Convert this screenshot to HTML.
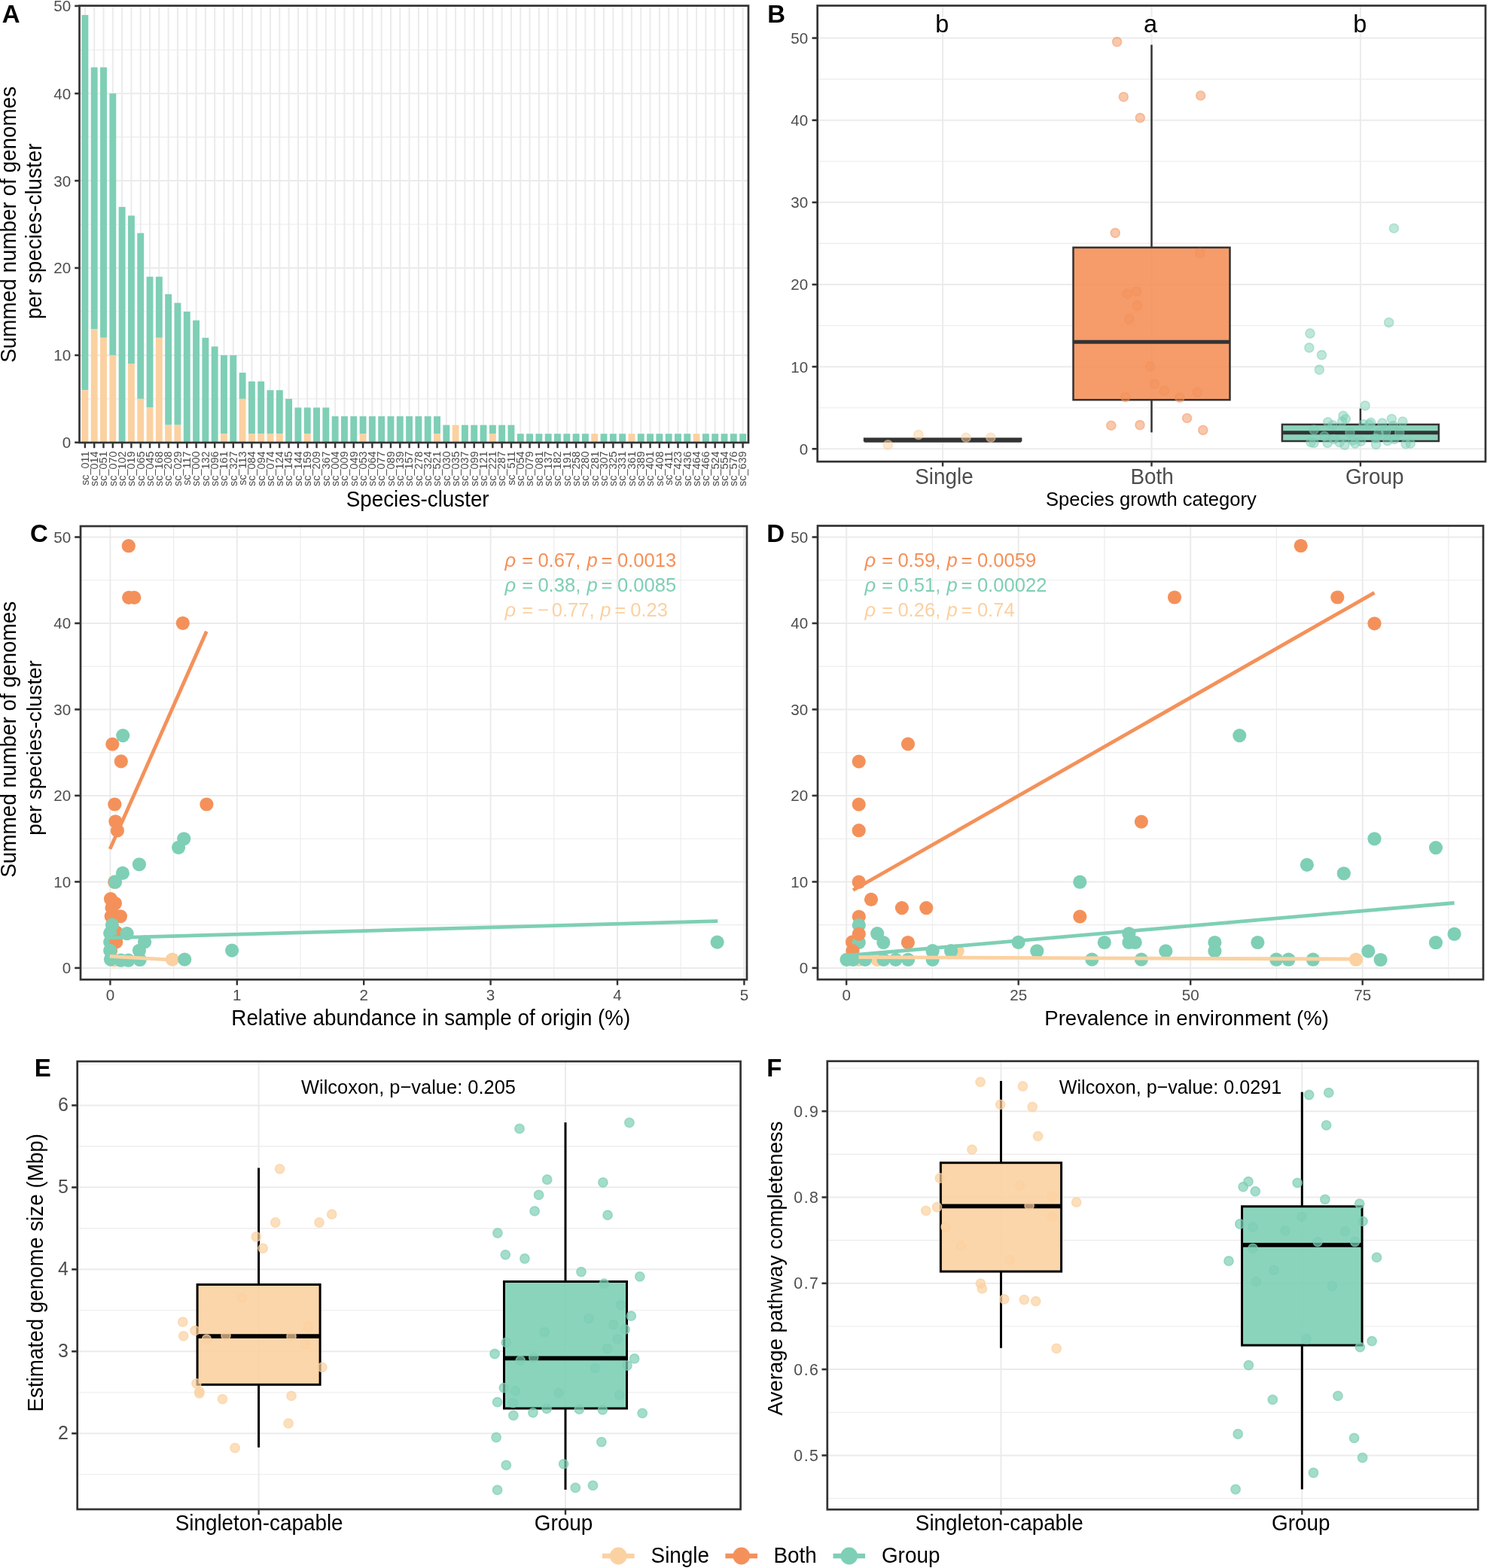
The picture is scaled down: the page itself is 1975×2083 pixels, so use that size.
<!DOCTYPE html>
<html><head><meta charset="utf-8"><title>Figure</title>
<style>html,body{margin:0;padding:0;background:#fff;} svg{display:block;}</style>
</head><body>
<svg xmlns="http://www.w3.org/2000/svg" width="1975" height="2083" viewBox="0 0 1975 2083" font-family="'Liberation Sans', Arial, Helvetica, sans-serif">
<rect width="1975" height="2083" fill="#fff"/>
<line x1="105.5" y1="529.85" x2="994" y2="529.85" stroke="#EBEBEB" stroke-width="1.1" stroke-linecap="butt"/>
<line x1="105.5" y1="413.95" x2="994" y2="413.95" stroke="#EBEBEB" stroke-width="1.1" stroke-linecap="butt"/>
<line x1="105.5" y1="298.05" x2="994" y2="298.05" stroke="#EBEBEB" stroke-width="1.1" stroke-linecap="butt"/>
<line x1="105.5" y1="182.15" x2="994" y2="182.15" stroke="#EBEBEB" stroke-width="1.1" stroke-linecap="butt"/>
<line x1="105.5" y1="66.25" x2="994" y2="66.25" stroke="#EBEBEB" stroke-width="1.1" stroke-linecap="butt"/>
<line x1="105.5" y1="471.9" x2="994" y2="471.9" stroke="#EBEBEB" stroke-width="2.0" stroke-linecap="butt"/>
<line x1="105.5" y1="356" x2="994" y2="356" stroke="#EBEBEB" stroke-width="2.0" stroke-linecap="butt"/>
<line x1="105.5" y1="240.1" x2="994" y2="240.1" stroke="#EBEBEB" stroke-width="2.0" stroke-linecap="butt"/>
<line x1="105.5" y1="124.2" x2="994" y2="124.2" stroke="#EBEBEB" stroke-width="2.0" stroke-linecap="butt"/>
<line x1="112.88" y1="7.6" x2="112.88" y2="588" stroke="#EBEBEB" stroke-width="2.0" stroke-linecap="butt"/>
<line x1="125.19" y1="7.6" x2="125.19" y2="588" stroke="#EBEBEB" stroke-width="2.0" stroke-linecap="butt"/>
<line x1="137.5" y1="7.6" x2="137.5" y2="588" stroke="#EBEBEB" stroke-width="2.0" stroke-linecap="butt"/>
<line x1="149.8" y1="7.6" x2="149.8" y2="588" stroke="#EBEBEB" stroke-width="2.0" stroke-linecap="butt"/>
<line x1="162.11" y1="7.6" x2="162.11" y2="588" stroke="#EBEBEB" stroke-width="2.0" stroke-linecap="butt"/>
<line x1="174.41" y1="7.6" x2="174.41" y2="588" stroke="#EBEBEB" stroke-width="2.0" stroke-linecap="butt"/>
<line x1="186.72" y1="7.6" x2="186.72" y2="588" stroke="#EBEBEB" stroke-width="2.0" stroke-linecap="butt"/>
<line x1="199.03" y1="7.6" x2="199.03" y2="588" stroke="#EBEBEB" stroke-width="2.0" stroke-linecap="butt"/>
<line x1="211.33" y1="7.6" x2="211.33" y2="588" stroke="#EBEBEB" stroke-width="2.0" stroke-linecap="butt"/>
<line x1="223.64" y1="7.6" x2="223.64" y2="588" stroke="#EBEBEB" stroke-width="2.0" stroke-linecap="butt"/>
<line x1="235.94" y1="7.6" x2="235.94" y2="588" stroke="#EBEBEB" stroke-width="2.0" stroke-linecap="butt"/>
<line x1="248.25" y1="7.6" x2="248.25" y2="588" stroke="#EBEBEB" stroke-width="2.0" stroke-linecap="butt"/>
<line x1="260.56" y1="7.6" x2="260.56" y2="588" stroke="#EBEBEB" stroke-width="2.0" stroke-linecap="butt"/>
<line x1="272.86" y1="7.6" x2="272.86" y2="588" stroke="#EBEBEB" stroke-width="2.0" stroke-linecap="butt"/>
<line x1="285.17" y1="7.6" x2="285.17" y2="588" stroke="#EBEBEB" stroke-width="2.0" stroke-linecap="butt"/>
<line x1="297.48" y1="7.6" x2="297.48" y2="588" stroke="#EBEBEB" stroke-width="2.0" stroke-linecap="butt"/>
<line x1="309.78" y1="7.6" x2="309.78" y2="588" stroke="#EBEBEB" stroke-width="2.0" stroke-linecap="butt"/>
<line x1="322.09" y1="7.6" x2="322.09" y2="588" stroke="#EBEBEB" stroke-width="2.0" stroke-linecap="butt"/>
<line x1="334.39" y1="7.6" x2="334.39" y2="588" stroke="#EBEBEB" stroke-width="2.0" stroke-linecap="butt"/>
<line x1="346.7" y1="7.6" x2="346.7" y2="588" stroke="#EBEBEB" stroke-width="2.0" stroke-linecap="butt"/>
<line x1="359.01" y1="7.6" x2="359.01" y2="588" stroke="#EBEBEB" stroke-width="2.0" stroke-linecap="butt"/>
<line x1="371.31" y1="7.6" x2="371.31" y2="588" stroke="#EBEBEB" stroke-width="2.0" stroke-linecap="butt"/>
<line x1="383.62" y1="7.6" x2="383.62" y2="588" stroke="#EBEBEB" stroke-width="2.0" stroke-linecap="butt"/>
<line x1="395.92" y1="7.6" x2="395.92" y2="588" stroke="#EBEBEB" stroke-width="2.0" stroke-linecap="butt"/>
<line x1="408.23" y1="7.6" x2="408.23" y2="588" stroke="#EBEBEB" stroke-width="2.0" stroke-linecap="butt"/>
<line x1="420.54" y1="7.6" x2="420.54" y2="588" stroke="#EBEBEB" stroke-width="2.0" stroke-linecap="butt"/>
<line x1="432.84" y1="7.6" x2="432.84" y2="588" stroke="#EBEBEB" stroke-width="2.0" stroke-linecap="butt"/>
<line x1="445.15" y1="7.6" x2="445.15" y2="588" stroke="#EBEBEB" stroke-width="2.0" stroke-linecap="butt"/>
<line x1="457.45" y1="7.6" x2="457.45" y2="588" stroke="#EBEBEB" stroke-width="2.0" stroke-linecap="butt"/>
<line x1="469.76" y1="7.6" x2="469.76" y2="588" stroke="#EBEBEB" stroke-width="2.0" stroke-linecap="butt"/>
<line x1="482.07" y1="7.6" x2="482.07" y2="588" stroke="#EBEBEB" stroke-width="2.0" stroke-linecap="butt"/>
<line x1="494.37" y1="7.6" x2="494.37" y2="588" stroke="#EBEBEB" stroke-width="2.0" stroke-linecap="butt"/>
<line x1="506.68" y1="7.6" x2="506.68" y2="588" stroke="#EBEBEB" stroke-width="2.0" stroke-linecap="butt"/>
<line x1="518.98" y1="7.6" x2="518.98" y2="588" stroke="#EBEBEB" stroke-width="2.0" stroke-linecap="butt"/>
<line x1="531.29" y1="7.6" x2="531.29" y2="588" stroke="#EBEBEB" stroke-width="2.0" stroke-linecap="butt"/>
<line x1="543.6" y1="7.6" x2="543.6" y2="588" stroke="#EBEBEB" stroke-width="2.0" stroke-linecap="butt"/>
<line x1="555.9" y1="7.6" x2="555.9" y2="588" stroke="#EBEBEB" stroke-width="2.0" stroke-linecap="butt"/>
<line x1="568.21" y1="7.6" x2="568.21" y2="588" stroke="#EBEBEB" stroke-width="2.0" stroke-linecap="butt"/>
<line x1="580.52" y1="7.6" x2="580.52" y2="588" stroke="#EBEBEB" stroke-width="2.0" stroke-linecap="butt"/>
<line x1="592.82" y1="7.6" x2="592.82" y2="588" stroke="#EBEBEB" stroke-width="2.0" stroke-linecap="butt"/>
<line x1="605.13" y1="7.6" x2="605.13" y2="588" stroke="#EBEBEB" stroke-width="2.0" stroke-linecap="butt"/>
<line x1="617.43" y1="7.6" x2="617.43" y2="588" stroke="#EBEBEB" stroke-width="2.0" stroke-linecap="butt"/>
<line x1="629.74" y1="7.6" x2="629.74" y2="588" stroke="#EBEBEB" stroke-width="2.0" stroke-linecap="butt"/>
<line x1="642.05" y1="7.6" x2="642.05" y2="588" stroke="#EBEBEB" stroke-width="2.0" stroke-linecap="butt"/>
<line x1="654.35" y1="7.6" x2="654.35" y2="588" stroke="#EBEBEB" stroke-width="2.0" stroke-linecap="butt"/>
<line x1="666.66" y1="7.6" x2="666.66" y2="588" stroke="#EBEBEB" stroke-width="2.0" stroke-linecap="butt"/>
<line x1="678.96" y1="7.6" x2="678.96" y2="588" stroke="#EBEBEB" stroke-width="2.0" stroke-linecap="butt"/>
<line x1="691.27" y1="7.6" x2="691.27" y2="588" stroke="#EBEBEB" stroke-width="2.0" stroke-linecap="butt"/>
<line x1="703.58" y1="7.6" x2="703.58" y2="588" stroke="#EBEBEB" stroke-width="2.0" stroke-linecap="butt"/>
<line x1="715.88" y1="7.6" x2="715.88" y2="588" stroke="#EBEBEB" stroke-width="2.0" stroke-linecap="butt"/>
<line x1="728.19" y1="7.6" x2="728.19" y2="588" stroke="#EBEBEB" stroke-width="2.0" stroke-linecap="butt"/>
<line x1="740.49" y1="7.6" x2="740.49" y2="588" stroke="#EBEBEB" stroke-width="2.0" stroke-linecap="butt"/>
<line x1="752.8" y1="7.6" x2="752.8" y2="588" stroke="#EBEBEB" stroke-width="2.0" stroke-linecap="butt"/>
<line x1="765.11" y1="7.6" x2="765.11" y2="588" stroke="#EBEBEB" stroke-width="2.0" stroke-linecap="butt"/>
<line x1="777.41" y1="7.6" x2="777.41" y2="588" stroke="#EBEBEB" stroke-width="2.0" stroke-linecap="butt"/>
<line x1="789.72" y1="7.6" x2="789.72" y2="588" stroke="#EBEBEB" stroke-width="2.0" stroke-linecap="butt"/>
<line x1="802.02" y1="7.6" x2="802.02" y2="588" stroke="#EBEBEB" stroke-width="2.0" stroke-linecap="butt"/>
<line x1="814.33" y1="7.6" x2="814.33" y2="588" stroke="#EBEBEB" stroke-width="2.0" stroke-linecap="butt"/>
<line x1="826.64" y1="7.6" x2="826.64" y2="588" stroke="#EBEBEB" stroke-width="2.0" stroke-linecap="butt"/>
<line x1="838.94" y1="7.6" x2="838.94" y2="588" stroke="#EBEBEB" stroke-width="2.0" stroke-linecap="butt"/>
<line x1="851.25" y1="7.6" x2="851.25" y2="588" stroke="#EBEBEB" stroke-width="2.0" stroke-linecap="butt"/>
<line x1="863.56" y1="7.6" x2="863.56" y2="588" stroke="#EBEBEB" stroke-width="2.0" stroke-linecap="butt"/>
<line x1="875.86" y1="7.6" x2="875.86" y2="588" stroke="#EBEBEB" stroke-width="2.0" stroke-linecap="butt"/>
<line x1="888.17" y1="7.6" x2="888.17" y2="588" stroke="#EBEBEB" stroke-width="2.0" stroke-linecap="butt"/>
<line x1="900.47" y1="7.6" x2="900.47" y2="588" stroke="#EBEBEB" stroke-width="2.0" stroke-linecap="butt"/>
<line x1="912.78" y1="7.6" x2="912.78" y2="588" stroke="#EBEBEB" stroke-width="2.0" stroke-linecap="butt"/>
<line x1="925.09" y1="7.6" x2="925.09" y2="588" stroke="#EBEBEB" stroke-width="2.0" stroke-linecap="butt"/>
<line x1="937.39" y1="7.6" x2="937.39" y2="588" stroke="#EBEBEB" stroke-width="2.0" stroke-linecap="butt"/>
<line x1="949.7" y1="7.6" x2="949.7" y2="588" stroke="#EBEBEB" stroke-width="2.0" stroke-linecap="butt"/>
<line x1="962" y1="7.6" x2="962" y2="588" stroke="#EBEBEB" stroke-width="2.0" stroke-linecap="butt"/>
<line x1="974.31" y1="7.6" x2="974.31" y2="588" stroke="#EBEBEB" stroke-width="2.0" stroke-linecap="butt"/>
<line x1="986.62" y1="7.6" x2="986.62" y2="588" stroke="#EBEBEB" stroke-width="2.0" stroke-linecap="butt"/>
<rect x="108.43" y="19.89" width="8.9" height="498.37" fill="#7ECFB5"/>
<rect x="108.43" y="518.26" width="8.9" height="69.54" fill="#FBD1A1"/>
<rect x="120.74" y="89.43" width="8.9" height="347.7" fill="#7ECFB5"/>
<rect x="120.74" y="437.13" width="8.9" height="150.67" fill="#FBD1A1"/>
<rect x="133.05" y="89.43" width="8.9" height="359.29" fill="#7ECFB5"/>
<rect x="133.05" y="448.72" width="8.9" height="139.08" fill="#FBD1A1"/>
<rect x="145.35" y="124.2" width="8.9" height="347.7" fill="#7ECFB5"/>
<rect x="145.35" y="471.9" width="8.9" height="115.9" fill="#FBD1A1"/>
<rect x="157.66" y="274.87" width="8.9" height="312.93" fill="#7ECFB5"/>
<rect x="169.96" y="286.46" width="8.9" height="197.03" fill="#7ECFB5"/>
<rect x="169.96" y="483.49" width="8.9" height="104.31" fill="#FBD1A1"/>
<rect x="182.27" y="309.64" width="8.9" height="220.21" fill="#7ECFB5"/>
<rect x="182.27" y="529.85" width="8.9" height="57.95" fill="#FBD1A1"/>
<rect x="194.58" y="367.59" width="8.9" height="173.85" fill="#7ECFB5"/>
<rect x="194.58" y="541.44" width="8.9" height="46.36" fill="#FBD1A1"/>
<rect x="206.88" y="367.59" width="8.9" height="81.13" fill="#7ECFB5"/>
<rect x="206.88" y="448.72" width="8.9" height="139.08" fill="#FBD1A1"/>
<rect x="219.19" y="390.77" width="8.9" height="173.85" fill="#7ECFB5"/>
<rect x="219.19" y="564.62" width="8.9" height="23.18" fill="#FBD1A1"/>
<rect x="231.49" y="402.36" width="8.9" height="162.26" fill="#7ECFB5"/>
<rect x="231.49" y="564.62" width="8.9" height="23.18" fill="#FBD1A1"/>
<rect x="243.8" y="413.95" width="8.9" height="173.85" fill="#7ECFB5"/>
<rect x="256.11" y="425.54" width="8.9" height="162.26" fill="#7ECFB5"/>
<rect x="268.41" y="448.72" width="8.9" height="139.08" fill="#7ECFB5"/>
<rect x="280.72" y="460.31" width="8.9" height="127.49" fill="#7ECFB5"/>
<rect x="293.03" y="471.9" width="8.9" height="104.31" fill="#7ECFB5"/>
<rect x="293.03" y="576.21" width="8.9" height="11.59" fill="#FBD1A1"/>
<rect x="305.33" y="471.9" width="8.9" height="115.9" fill="#7ECFB5"/>
<rect x="317.64" y="495.08" width="8.9" height="34.77" fill="#7ECFB5"/>
<rect x="317.64" y="529.85" width="8.9" height="57.95" fill="#FBD1A1"/>
<rect x="329.94" y="506.67" width="8.9" height="69.54" fill="#7ECFB5"/>
<rect x="329.94" y="576.21" width="8.9" height="11.59" fill="#FBD1A1"/>
<rect x="342.25" y="506.67" width="8.9" height="69.54" fill="#7ECFB5"/>
<rect x="342.25" y="576.21" width="8.9" height="11.59" fill="#FBD1A1"/>
<rect x="354.56" y="518.26" width="8.9" height="57.95" fill="#7ECFB5"/>
<rect x="354.56" y="576.21" width="8.9" height="11.59" fill="#FBD1A1"/>
<rect x="366.86" y="518.26" width="8.9" height="57.95" fill="#7ECFB5"/>
<rect x="366.86" y="576.21" width="8.9" height="11.59" fill="#FBD1A1"/>
<rect x="379.17" y="529.85" width="8.9" height="57.95" fill="#7ECFB5"/>
<rect x="391.47" y="541.44" width="8.9" height="46.36" fill="#7ECFB5"/>
<rect x="403.78" y="541.44" width="8.9" height="34.77" fill="#7ECFB5"/>
<rect x="403.78" y="576.21" width="8.9" height="11.59" fill="#FBD1A1"/>
<rect x="416.09" y="541.44" width="8.9" height="46.36" fill="#7ECFB5"/>
<rect x="428.39" y="541.44" width="8.9" height="46.36" fill="#7ECFB5"/>
<rect x="440.7" y="553.03" width="8.9" height="34.77" fill="#7ECFB5"/>
<rect x="453" y="553.03" width="8.9" height="34.77" fill="#7ECFB5"/>
<rect x="465.31" y="553.03" width="8.9" height="34.77" fill="#7ECFB5"/>
<rect x="477.62" y="553.03" width="8.9" height="23.18" fill="#7ECFB5"/>
<rect x="477.62" y="576.21" width="8.9" height="11.59" fill="#FBD1A1"/>
<rect x="489.92" y="553.03" width="8.9" height="34.77" fill="#7ECFB5"/>
<rect x="502.23" y="553.03" width="8.9" height="34.77" fill="#7ECFB5"/>
<rect x="514.53" y="553.03" width="8.9" height="34.77" fill="#7ECFB5"/>
<rect x="526.84" y="553.03" width="8.9" height="34.77" fill="#7ECFB5"/>
<rect x="539.15" y="553.03" width="8.9" height="34.77" fill="#7ECFB5"/>
<rect x="551.45" y="553.03" width="8.9" height="34.77" fill="#7ECFB5"/>
<rect x="563.76" y="553.03" width="8.9" height="34.77" fill="#7ECFB5"/>
<rect x="576.07" y="553.03" width="8.9" height="23.18" fill="#7ECFB5"/>
<rect x="576.07" y="576.21" width="8.9" height="11.59" fill="#FBD1A1"/>
<rect x="588.37" y="564.62" width="8.9" height="23.18" fill="#7ECFB5"/>
<rect x="600.68" y="564.62" width="8.9" height="23.18" fill="#FBD1A1"/>
<rect x="612.98" y="564.62" width="8.9" height="23.18" fill="#7ECFB5"/>
<rect x="625.29" y="564.62" width="8.9" height="23.18" fill="#7ECFB5"/>
<rect x="637.6" y="564.62" width="8.9" height="23.18" fill="#7ECFB5"/>
<rect x="649.9" y="564.62" width="8.9" height="11.59" fill="#7ECFB5"/>
<rect x="649.9" y="576.21" width="8.9" height="11.59" fill="#FBD1A1"/>
<rect x="662.21" y="564.62" width="8.9" height="23.18" fill="#7ECFB5"/>
<rect x="674.51" y="564.62" width="8.9" height="23.18" fill="#7ECFB5"/>
<rect x="686.82" y="576.21" width="8.9" height="11.59" fill="#7ECFB5"/>
<rect x="699.13" y="576.21" width="8.9" height="11.59" fill="#7ECFB5"/>
<rect x="711.43" y="576.21" width="8.9" height="11.59" fill="#7ECFB5"/>
<rect x="723.74" y="576.21" width="8.9" height="11.59" fill="#7ECFB5"/>
<rect x="736.04" y="576.21" width="8.9" height="11.59" fill="#7ECFB5"/>
<rect x="748.35" y="576.21" width="8.9" height="11.59" fill="#7ECFB5"/>
<rect x="760.66" y="576.21" width="8.9" height="11.59" fill="#7ECFB5"/>
<rect x="772.96" y="576.21" width="8.9" height="11.59" fill="#7ECFB5"/>
<rect x="785.27" y="576.21" width="8.9" height="11.59" fill="#FBD1A1"/>
<rect x="797.57" y="576.21" width="8.9" height="11.59" fill="#7ECFB5"/>
<rect x="809.88" y="576.21" width="8.9" height="11.59" fill="#7ECFB5"/>
<rect x="822.19" y="576.21" width="8.9" height="11.59" fill="#7ECFB5"/>
<rect x="834.49" y="576.21" width="8.9" height="11.59" fill="#FBD1A1"/>
<rect x="846.8" y="576.21" width="8.9" height="11.59" fill="#7ECFB5"/>
<rect x="859.11" y="576.21" width="8.9" height="11.59" fill="#7ECFB5"/>
<rect x="871.41" y="576.21" width="8.9" height="11.59" fill="#7ECFB5"/>
<rect x="883.72" y="576.21" width="8.9" height="11.59" fill="#7ECFB5"/>
<rect x="896.02" y="576.21" width="8.9" height="11.59" fill="#7ECFB5"/>
<rect x="908.33" y="576.21" width="8.9" height="11.59" fill="#7ECFB5"/>
<rect x="920.64" y="576.21" width="8.9" height="11.59" fill="#FBD1A1"/>
<rect x="932.94" y="576.21" width="8.9" height="11.59" fill="#7ECFB5"/>
<rect x="945.25" y="576.21" width="8.9" height="11.59" fill="#7ECFB5"/>
<rect x="957.55" y="576.21" width="8.9" height="11.59" fill="#7ECFB5"/>
<rect x="969.86" y="576.21" width="8.9" height="11.59" fill="#7ECFB5"/>
<rect x="982.17" y="576.21" width="8.9" height="11.59" fill="#7ECFB5"/>
<rect x="105.5" y="7.6" width="888.5" height="580.4" fill="none" stroke="#333333" stroke-width="2.7"/>
<line x1="99.2" y1="587.8" x2="105.5" y2="587.8" stroke="#333333" stroke-width="2.6" stroke-linecap="butt"/>
<text x="94.1" y="595.2" font-size="20.6" fill="#4D4D4D" text-anchor="end">0</text>
<line x1="99.2" y1="471.9" x2="105.5" y2="471.9" stroke="#333333" stroke-width="2.6" stroke-linecap="butt"/>
<text x="94.1" y="479.3" font-size="20.6" fill="#4D4D4D" text-anchor="end">10</text>
<line x1="99.2" y1="356" x2="105.5" y2="356" stroke="#333333" stroke-width="2.6" stroke-linecap="butt"/>
<text x="94.1" y="363.4" font-size="20.6" fill="#4D4D4D" text-anchor="end">20</text>
<line x1="99.2" y1="240.1" x2="105.5" y2="240.1" stroke="#333333" stroke-width="2.6" stroke-linecap="butt"/>
<text x="94.1" y="247.5" font-size="20.6" fill="#4D4D4D" text-anchor="end">30</text>
<line x1="99.2" y1="124.2" x2="105.5" y2="124.2" stroke="#333333" stroke-width="2.6" stroke-linecap="butt"/>
<text x="94.1" y="131.6" font-size="20.6" fill="#4D4D4D" text-anchor="end">40</text>
<line x1="99.2" y1="7.9" x2="105.5" y2="7.9" stroke="#333333" stroke-width="2.6" stroke-linecap="butt"/>
<text x="94.1" y="15.3" font-size="20.6" fill="#4D4D4D" text-anchor="end">50</text>
<line x1="112.88" y1="588" x2="112.88" y2="595.2" stroke="#333333" stroke-width="2.4" stroke-linecap="butt"/>
<text x="117.68" y="599.5" font-size="14.4" fill="#4D4D4D" text-anchor="end" transform="rotate(-90 117.68 599.5)">sc_011</text>
<line x1="125.19" y1="588" x2="125.19" y2="595.2" stroke="#333333" stroke-width="2.4" stroke-linecap="butt"/>
<text x="129.99" y="599.5" font-size="14.4" fill="#4D4D4D" text-anchor="end" transform="rotate(-90 129.99 599.5)">sc_014</text>
<line x1="137.5" y1="588" x2="137.5" y2="595.2" stroke="#333333" stroke-width="2.4" stroke-linecap="butt"/>
<text x="142.3" y="599.5" font-size="14.4" fill="#4D4D4D" text-anchor="end" transform="rotate(-90 142.3 599.5)">sc_051</text>
<line x1="149.8" y1="588" x2="149.8" y2="595.2" stroke="#333333" stroke-width="2.4" stroke-linecap="butt"/>
<text x="154.6" y="599.5" font-size="14.4" fill="#4D4D4D" text-anchor="end" transform="rotate(-90 154.6 599.5)">sc_070</text>
<line x1="162.11" y1="588" x2="162.11" y2="595.2" stroke="#333333" stroke-width="2.4" stroke-linecap="butt"/>
<text x="166.91" y="599.5" font-size="14.4" fill="#4D4D4D" text-anchor="end" transform="rotate(-90 166.91 599.5)">sc_102</text>
<line x1="174.41" y1="588" x2="174.41" y2="595.2" stroke="#333333" stroke-width="2.4" stroke-linecap="butt"/>
<text x="179.21" y="599.5" font-size="14.4" fill="#4D4D4D" text-anchor="end" transform="rotate(-90 179.21 599.5)">sc_019</text>
<line x1="186.72" y1="588" x2="186.72" y2="595.2" stroke="#333333" stroke-width="2.4" stroke-linecap="butt"/>
<text x="191.52" y="599.5" font-size="14.4" fill="#4D4D4D" text-anchor="end" transform="rotate(-90 191.52 599.5)">sc_065</text>
<line x1="199.03" y1="588" x2="199.03" y2="595.2" stroke="#333333" stroke-width="2.4" stroke-linecap="butt"/>
<text x="203.83" y="599.5" font-size="14.4" fill="#4D4D4D" text-anchor="end" transform="rotate(-90 203.83 599.5)">sc_045</text>
<line x1="211.33" y1="588" x2="211.33" y2="595.2" stroke="#333333" stroke-width="2.4" stroke-linecap="butt"/>
<text x="216.13" y="599.5" font-size="14.4" fill="#4D4D4D" text-anchor="end" transform="rotate(-90 216.13 599.5)">sc_168</text>
<line x1="223.64" y1="588" x2="223.64" y2="595.2" stroke="#333333" stroke-width="2.4" stroke-linecap="butt"/>
<text x="228.44" y="599.5" font-size="14.4" fill="#4D4D4D" text-anchor="end" transform="rotate(-90 228.44 599.5)">sc_208</text>
<line x1="235.94" y1="588" x2="235.94" y2="595.2" stroke="#333333" stroke-width="2.4" stroke-linecap="butt"/>
<text x="240.74" y="599.5" font-size="14.4" fill="#4D4D4D" text-anchor="end" transform="rotate(-90 240.74 599.5)">sc_029</text>
<line x1="248.25" y1="588" x2="248.25" y2="595.2" stroke="#333333" stroke-width="2.4" stroke-linecap="butt"/>
<text x="253.05" y="599.5" font-size="14.4" fill="#4D4D4D" text-anchor="end" transform="rotate(-90 253.05 599.5)">sc_117</text>
<line x1="260.56" y1="588" x2="260.56" y2="595.2" stroke="#333333" stroke-width="2.4" stroke-linecap="butt"/>
<text x="265.36" y="599.5" font-size="14.4" fill="#4D4D4D" text-anchor="end" transform="rotate(-90 265.36 599.5)">sc_000</text>
<line x1="272.86" y1="588" x2="272.86" y2="595.2" stroke="#333333" stroke-width="2.4" stroke-linecap="butt"/>
<text x="277.66" y="599.5" font-size="14.4" fill="#4D4D4D" text-anchor="end" transform="rotate(-90 277.66 599.5)">sc_132</text>
<line x1="285.17" y1="588" x2="285.17" y2="595.2" stroke="#333333" stroke-width="2.4" stroke-linecap="butt"/>
<text x="289.97" y="599.5" font-size="14.4" fill="#4D4D4D" text-anchor="end" transform="rotate(-90 289.97 599.5)">sc_096</text>
<line x1="297.48" y1="588" x2="297.48" y2="595.2" stroke="#333333" stroke-width="2.4" stroke-linecap="butt"/>
<text x="302.28" y="599.5" font-size="14.4" fill="#4D4D4D" text-anchor="end" transform="rotate(-90 302.28 599.5)">sc_161</text>
<line x1="309.78" y1="588" x2="309.78" y2="595.2" stroke="#333333" stroke-width="2.4" stroke-linecap="butt"/>
<text x="314.58" y="599.5" font-size="14.4" fill="#4D4D4D" text-anchor="end" transform="rotate(-90 314.58 599.5)">sc_327</text>
<line x1="322.09" y1="588" x2="322.09" y2="595.2" stroke="#333333" stroke-width="2.4" stroke-linecap="butt"/>
<text x="326.89" y="599.5" font-size="14.4" fill="#4D4D4D" text-anchor="end" transform="rotate(-90 326.89 599.5)">sc_113</text>
<line x1="334.39" y1="588" x2="334.39" y2="595.2" stroke="#333333" stroke-width="2.4" stroke-linecap="butt"/>
<text x="339.19" y="599.5" font-size="14.4" fill="#4D4D4D" text-anchor="end" transform="rotate(-90 339.19 599.5)">sc_084</text>
<line x1="346.7" y1="588" x2="346.7" y2="595.2" stroke="#333333" stroke-width="2.4" stroke-linecap="butt"/>
<text x="351.5" y="599.5" font-size="14.4" fill="#4D4D4D" text-anchor="end" transform="rotate(-90 351.5 599.5)">sc_094</text>
<line x1="359.01" y1="588" x2="359.01" y2="595.2" stroke="#333333" stroke-width="2.4" stroke-linecap="butt"/>
<text x="363.81" y="599.5" font-size="14.4" fill="#4D4D4D" text-anchor="end" transform="rotate(-90 363.81 599.5)">sc_074</text>
<line x1="371.31" y1="588" x2="371.31" y2="595.2" stroke="#333333" stroke-width="2.4" stroke-linecap="butt"/>
<text x="376.11" y="599.5" font-size="14.4" fill="#4D4D4D" text-anchor="end" transform="rotate(-90 376.11 599.5)">sc_124</text>
<line x1="383.62" y1="588" x2="383.62" y2="595.2" stroke="#333333" stroke-width="2.4" stroke-linecap="butt"/>
<text x="388.42" y="599.5" font-size="14.4" fill="#4D4D4D" text-anchor="end" transform="rotate(-90 388.42 599.5)">sc_145</text>
<line x1="395.92" y1="588" x2="395.92" y2="595.2" stroke="#333333" stroke-width="2.4" stroke-linecap="butt"/>
<text x="400.72" y="599.5" font-size="14.4" fill="#4D4D4D" text-anchor="end" transform="rotate(-90 400.72 599.5)">sc_144</text>
<line x1="408.23" y1="588" x2="408.23" y2="595.2" stroke="#333333" stroke-width="2.4" stroke-linecap="butt"/>
<text x="413.03" y="599.5" font-size="14.4" fill="#4D4D4D" text-anchor="end" transform="rotate(-90 413.03 599.5)">sc_159</text>
<line x1="420.54" y1="588" x2="420.54" y2="595.2" stroke="#333333" stroke-width="2.4" stroke-linecap="butt"/>
<text x="425.34" y="599.5" font-size="14.4" fill="#4D4D4D" text-anchor="end" transform="rotate(-90 425.34 599.5)">sc_209</text>
<line x1="432.84" y1="588" x2="432.84" y2="595.2" stroke="#333333" stroke-width="2.4" stroke-linecap="butt"/>
<text x="437.64" y="599.5" font-size="14.4" fill="#4D4D4D" text-anchor="end" transform="rotate(-90 437.64 599.5)">sc_367</text>
<line x1="445.15" y1="588" x2="445.15" y2="595.2" stroke="#333333" stroke-width="2.4" stroke-linecap="butt"/>
<text x="449.95" y="599.5" font-size="14.4" fill="#4D4D4D" text-anchor="end" transform="rotate(-90 449.95 599.5)">sc_004</text>
<line x1="457.45" y1="588" x2="457.45" y2="595.2" stroke="#333333" stroke-width="2.4" stroke-linecap="butt"/>
<text x="462.25" y="599.5" font-size="14.4" fill="#4D4D4D" text-anchor="end" transform="rotate(-90 462.25 599.5)">sc_009</text>
<line x1="469.76" y1="588" x2="469.76" y2="595.2" stroke="#333333" stroke-width="2.4" stroke-linecap="butt"/>
<text x="474.56" y="599.5" font-size="14.4" fill="#4D4D4D" text-anchor="end" transform="rotate(-90 474.56 599.5)">sc_049</text>
<line x1="482.07" y1="588" x2="482.07" y2="595.2" stroke="#333333" stroke-width="2.4" stroke-linecap="butt"/>
<text x="486.87" y="599.5" font-size="14.4" fill="#4D4D4D" text-anchor="end" transform="rotate(-90 486.87 599.5)">sc_053</text>
<line x1="494.37" y1="588" x2="494.37" y2="595.2" stroke="#333333" stroke-width="2.4" stroke-linecap="butt"/>
<text x="499.17" y="599.5" font-size="14.4" fill="#4D4D4D" text-anchor="end" transform="rotate(-90 499.17 599.5)">sc_064</text>
<line x1="506.68" y1="588" x2="506.68" y2="595.2" stroke="#333333" stroke-width="2.4" stroke-linecap="butt"/>
<text x="511.48" y="599.5" font-size="14.4" fill="#4D4D4D" text-anchor="end" transform="rotate(-90 511.48 599.5)">sc_077</text>
<line x1="518.98" y1="588" x2="518.98" y2="595.2" stroke="#333333" stroke-width="2.4" stroke-linecap="butt"/>
<text x="523.78" y="599.5" font-size="14.4" fill="#4D4D4D" text-anchor="end" transform="rotate(-90 523.78 599.5)">sc_089</text>
<line x1="531.29" y1="588" x2="531.29" y2="595.2" stroke="#333333" stroke-width="2.4" stroke-linecap="butt"/>
<text x="536.09" y="599.5" font-size="14.4" fill="#4D4D4D" text-anchor="end" transform="rotate(-90 536.09 599.5)">sc_139</text>
<line x1="543.6" y1="588" x2="543.6" y2="595.2" stroke="#333333" stroke-width="2.4" stroke-linecap="butt"/>
<text x="548.4" y="599.5" font-size="14.4" fill="#4D4D4D" text-anchor="end" transform="rotate(-90 548.4 599.5)">sc_157</text>
<line x1="555.9" y1="588" x2="555.9" y2="595.2" stroke="#333333" stroke-width="2.4" stroke-linecap="butt"/>
<text x="560.7" y="599.5" font-size="14.4" fill="#4D4D4D" text-anchor="end" transform="rotate(-90 560.7 599.5)">sc_278</text>
<line x1="568.21" y1="588" x2="568.21" y2="595.2" stroke="#333333" stroke-width="2.4" stroke-linecap="butt"/>
<text x="573.01" y="599.5" font-size="14.4" fill="#4D4D4D" text-anchor="end" transform="rotate(-90 573.01 599.5)">sc_324</text>
<line x1="580.52" y1="588" x2="580.52" y2="595.2" stroke="#333333" stroke-width="2.4" stroke-linecap="butt"/>
<text x="585.32" y="599.5" font-size="14.4" fill="#4D4D4D" text-anchor="end" transform="rotate(-90 585.32 599.5)">sc_521</text>
<line x1="592.82" y1="588" x2="592.82" y2="595.2" stroke="#333333" stroke-width="2.4" stroke-linecap="butt"/>
<text x="597.62" y="599.5" font-size="14.4" fill="#4D4D4D" text-anchor="end" transform="rotate(-90 597.62 599.5)">sc_030</text>
<line x1="605.13" y1="588" x2="605.13" y2="595.2" stroke="#333333" stroke-width="2.4" stroke-linecap="butt"/>
<text x="609.93" y="599.5" font-size="14.4" fill="#4D4D4D" text-anchor="end" transform="rotate(-90 609.93 599.5)">sc_035</text>
<line x1="617.43" y1="588" x2="617.43" y2="595.2" stroke="#333333" stroke-width="2.4" stroke-linecap="butt"/>
<text x="622.23" y="599.5" font-size="14.4" fill="#4D4D4D" text-anchor="end" transform="rotate(-90 622.23 599.5)">sc_037</text>
<line x1="629.74" y1="588" x2="629.74" y2="595.2" stroke="#333333" stroke-width="2.4" stroke-linecap="butt"/>
<text x="634.54" y="599.5" font-size="14.4" fill="#4D4D4D" text-anchor="end" transform="rotate(-90 634.54 599.5)">sc_099</text>
<line x1="642.05" y1="588" x2="642.05" y2="595.2" stroke="#333333" stroke-width="2.4" stroke-linecap="butt"/>
<text x="646.85" y="599.5" font-size="14.4" fill="#4D4D4D" text-anchor="end" transform="rotate(-90 646.85 599.5)">sc_121</text>
<line x1="654.35" y1="588" x2="654.35" y2="595.2" stroke="#333333" stroke-width="2.4" stroke-linecap="butt"/>
<text x="659.15" y="599.5" font-size="14.4" fill="#4D4D4D" text-anchor="end" transform="rotate(-90 659.15 599.5)">sc_221</text>
<line x1="666.66" y1="588" x2="666.66" y2="595.2" stroke="#333333" stroke-width="2.4" stroke-linecap="butt"/>
<text x="671.46" y="599.5" font-size="14.4" fill="#4D4D4D" text-anchor="end" transform="rotate(-90 671.46 599.5)">sc_287</text>
<line x1="678.96" y1="588" x2="678.96" y2="595.2" stroke="#333333" stroke-width="2.4" stroke-linecap="butt"/>
<text x="683.76" y="599.5" font-size="14.4" fill="#4D4D4D" text-anchor="end" transform="rotate(-90 683.76 599.5)">sc_511</text>
<line x1="691.27" y1="588" x2="691.27" y2="595.2" stroke="#333333" stroke-width="2.4" stroke-linecap="butt"/>
<text x="696.07" y="599.5" font-size="14.4" fill="#4D4D4D" text-anchor="end" transform="rotate(-90 696.07 599.5)">sc_054</text>
<line x1="703.58" y1="588" x2="703.58" y2="595.2" stroke="#333333" stroke-width="2.4" stroke-linecap="butt"/>
<text x="708.38" y="599.5" font-size="14.4" fill="#4D4D4D" text-anchor="end" transform="rotate(-90 708.38 599.5)">sc_079</text>
<line x1="715.88" y1="588" x2="715.88" y2="595.2" stroke="#333333" stroke-width="2.4" stroke-linecap="butt"/>
<text x="720.68" y="599.5" font-size="14.4" fill="#4D4D4D" text-anchor="end" transform="rotate(-90 720.68 599.5)">sc_081</text>
<line x1="728.19" y1="588" x2="728.19" y2="595.2" stroke="#333333" stroke-width="2.4" stroke-linecap="butt"/>
<text x="732.99" y="599.5" font-size="14.4" fill="#4D4D4D" text-anchor="end" transform="rotate(-90 732.99 599.5)">sc_137</text>
<line x1="740.49" y1="588" x2="740.49" y2="595.2" stroke="#333333" stroke-width="2.4" stroke-linecap="butt"/>
<text x="745.29" y="599.5" font-size="14.4" fill="#4D4D4D" text-anchor="end" transform="rotate(-90 745.29 599.5)">sc_182</text>
<line x1="752.8" y1="588" x2="752.8" y2="595.2" stroke="#333333" stroke-width="2.4" stroke-linecap="butt"/>
<text x="757.6" y="599.5" font-size="14.4" fill="#4D4D4D" text-anchor="end" transform="rotate(-90 757.6 599.5)">sc_191</text>
<line x1="765.11" y1="588" x2="765.11" y2="595.2" stroke="#333333" stroke-width="2.4" stroke-linecap="butt"/>
<text x="769.91" y="599.5" font-size="14.4" fill="#4D4D4D" text-anchor="end" transform="rotate(-90 769.91 599.5)">sc_258</text>
<line x1="777.41" y1="588" x2="777.41" y2="595.2" stroke="#333333" stroke-width="2.4" stroke-linecap="butt"/>
<text x="782.21" y="599.5" font-size="14.4" fill="#4D4D4D" text-anchor="end" transform="rotate(-90 782.21 599.5)">sc_280</text>
<line x1="789.72" y1="588" x2="789.72" y2="595.2" stroke="#333333" stroke-width="2.4" stroke-linecap="butt"/>
<text x="794.52" y="599.5" font-size="14.4" fill="#4D4D4D" text-anchor="end" transform="rotate(-90 794.52 599.5)">sc_281</text>
<line x1="802.02" y1="588" x2="802.02" y2="595.2" stroke="#333333" stroke-width="2.4" stroke-linecap="butt"/>
<text x="806.82" y="599.5" font-size="14.4" fill="#4D4D4D" text-anchor="end" transform="rotate(-90 806.82 599.5)">sc_307</text>
<line x1="814.33" y1="588" x2="814.33" y2="595.2" stroke="#333333" stroke-width="2.4" stroke-linecap="butt"/>
<text x="819.13" y="599.5" font-size="14.4" fill="#4D4D4D" text-anchor="end" transform="rotate(-90 819.13 599.5)">sc_325</text>
<line x1="826.64" y1="588" x2="826.64" y2="595.2" stroke="#333333" stroke-width="2.4" stroke-linecap="butt"/>
<text x="831.44" y="599.5" font-size="14.4" fill="#4D4D4D" text-anchor="end" transform="rotate(-90 831.44 599.5)">sc_331</text>
<line x1="838.94" y1="588" x2="838.94" y2="595.2" stroke="#333333" stroke-width="2.4" stroke-linecap="butt"/>
<text x="843.74" y="599.5" font-size="14.4" fill="#4D4D4D" text-anchor="end" transform="rotate(-90 843.74 599.5)">sc_361</text>
<line x1="851.25" y1="588" x2="851.25" y2="595.2" stroke="#333333" stroke-width="2.4" stroke-linecap="butt"/>
<text x="856.05" y="599.5" font-size="14.4" fill="#4D4D4D" text-anchor="end" transform="rotate(-90 856.05 599.5)">sc_389</text>
<line x1="863.56" y1="588" x2="863.56" y2="595.2" stroke="#333333" stroke-width="2.4" stroke-linecap="butt"/>
<text x="868.36" y="599.5" font-size="14.4" fill="#4D4D4D" text-anchor="end" transform="rotate(-90 868.36 599.5)">sc_401</text>
<line x1="875.86" y1="588" x2="875.86" y2="595.2" stroke="#333333" stroke-width="2.4" stroke-linecap="butt"/>
<text x="880.66" y="599.5" font-size="14.4" fill="#4D4D4D" text-anchor="end" transform="rotate(-90 880.66 599.5)">sc_408</text>
<line x1="888.17" y1="588" x2="888.17" y2="595.2" stroke="#333333" stroke-width="2.4" stroke-linecap="butt"/>
<text x="892.97" y="599.5" font-size="14.4" fill="#4D4D4D" text-anchor="end" transform="rotate(-90 892.97 599.5)">sc_411</text>
<line x1="900.47" y1="588" x2="900.47" y2="595.2" stroke="#333333" stroke-width="2.4" stroke-linecap="butt"/>
<text x="905.27" y="599.5" font-size="14.4" fill="#4D4D4D" text-anchor="end" transform="rotate(-90 905.27 599.5)">sc_423</text>
<line x1="912.78" y1="588" x2="912.78" y2="595.2" stroke="#333333" stroke-width="2.4" stroke-linecap="butt"/>
<text x="917.58" y="599.5" font-size="14.4" fill="#4D4D4D" text-anchor="end" transform="rotate(-90 917.58 599.5)">sc_436</text>
<line x1="925.09" y1="588" x2="925.09" y2="595.2" stroke="#333333" stroke-width="2.4" stroke-linecap="butt"/>
<text x="929.89" y="599.5" font-size="14.4" fill="#4D4D4D" text-anchor="end" transform="rotate(-90 929.89 599.5)">sc_464</text>
<line x1="937.39" y1="588" x2="937.39" y2="595.2" stroke="#333333" stroke-width="2.4" stroke-linecap="butt"/>
<text x="942.19" y="599.5" font-size="14.4" fill="#4D4D4D" text-anchor="end" transform="rotate(-90 942.19 599.5)">sc_466</text>
<line x1="949.7" y1="588" x2="949.7" y2="595.2" stroke="#333333" stroke-width="2.4" stroke-linecap="butt"/>
<text x="954.5" y="599.5" font-size="14.4" fill="#4D4D4D" text-anchor="end" transform="rotate(-90 954.5 599.5)">sc_524</text>
<line x1="962" y1="588" x2="962" y2="595.2" stroke="#333333" stroke-width="2.4" stroke-linecap="butt"/>
<text x="966.8" y="599.5" font-size="14.4" fill="#4D4D4D" text-anchor="end" transform="rotate(-90 966.8 599.5)">sc_554</text>
<line x1="974.31" y1="588" x2="974.31" y2="595.2" stroke="#333333" stroke-width="2.4" stroke-linecap="butt"/>
<text x="979.11" y="599.5" font-size="14.4" fill="#4D4D4D" text-anchor="end" transform="rotate(-90 979.11 599.5)">sc_576</text>
<line x1="986.62" y1="588" x2="986.62" y2="595.2" stroke="#333333" stroke-width="2.4" stroke-linecap="butt"/>
<text x="991.42" y="599.5" font-size="14.4" fill="#4D4D4D" text-anchor="end" transform="rotate(-90 991.42 599.5)">sc_639</text>
<text transform="translate(459.75 672.5) scale(1 1.03)" font-size="27.79" fill="#000">Species-cluster</text>
<text transform="translate(20.9 481.75) rotate(-90) scale(1 1.03)" font-size="27.86" fill="#000">Summed number of genomes</text>
<text transform="translate(55 424.11) rotate(-90) scale(1 1.03)" font-size="27.84" fill="#000">per species-cluster</text>
<text transform="translate(2.67 29.6) scale(1 1.03)" font-size="33.00" fill="#000" font-weight="bold">A</text>
<line x1="1085.7" y1="541.72" x2="1973" y2="541.72" stroke="#EBEBEB" stroke-width="1.1" stroke-linecap="butt"/>
<line x1="1085.7" y1="432.57" x2="1973" y2="432.57" stroke="#EBEBEB" stroke-width="1.1" stroke-linecap="butt"/>
<line x1="1085.7" y1="323.42" x2="1973" y2="323.42" stroke="#EBEBEB" stroke-width="1.1" stroke-linecap="butt"/>
<line x1="1085.7" y1="214.27" x2="1973" y2="214.27" stroke="#EBEBEB" stroke-width="1.1" stroke-linecap="butt"/>
<line x1="1085.7" y1="105.12" x2="1973" y2="105.12" stroke="#EBEBEB" stroke-width="1.1" stroke-linecap="butt"/>
<line x1="1085.7" y1="596.3" x2="1973" y2="596.3" stroke="#EBEBEB" stroke-width="2.0" stroke-linecap="butt"/>
<line x1="1085.7" y1="487.15" x2="1973" y2="487.15" stroke="#EBEBEB" stroke-width="2.0" stroke-linecap="butt"/>
<line x1="1085.7" y1="378" x2="1973" y2="378" stroke="#EBEBEB" stroke-width="2.0" stroke-linecap="butt"/>
<line x1="1085.7" y1="268.85" x2="1973" y2="268.85" stroke="#EBEBEB" stroke-width="2.0" stroke-linecap="butt"/>
<line x1="1085.7" y1="159.7" x2="1973" y2="159.7" stroke="#EBEBEB" stroke-width="2.0" stroke-linecap="butt"/>
<line x1="1085.7" y1="50.55" x2="1973" y2="50.55" stroke="#EBEBEB" stroke-width="2.0" stroke-linecap="butt"/>
<line x1="1252.1" y1="7.5" x2="1252.1" y2="613.2" stroke="#EBEBEB" stroke-width="2.0" stroke-linecap="butt"/>
<line x1="1529.5" y1="7.5" x2="1529.5" y2="613.2" stroke="#EBEBEB" stroke-width="2.0" stroke-linecap="butt"/>
<line x1="1806.9" y1="7.5" x2="1806.9" y2="613.2" stroke="#EBEBEB" stroke-width="2.0" stroke-linecap="butt"/>
<rect x="1242.9" y="23" width="18.2" height="22" fill="#fff"/>
<text transform="translate(1242.29 43.1) scale(1 1.03)" font-size="32.50" fill="#000">b</text>
<rect x="1519" y="23" width="19.1" height="22" fill="#fff"/>
<text transform="translate(1519.12 43.1) scale(1 1.03)" font-size="32.50" fill="#000">a</text>
<rect x="1797.8" y="23" width="18.2" height="22" fill="#fff"/>
<text transform="translate(1797.19 43.1) scale(1 1.03)" font-size="32.50" fill="#000">b</text>
<rect x="1148.1" y="582.7" width="208" height="2.7" fill="#FBD1A1" fill-opacity="0.9" stroke="#333333" stroke-width="2.5"/>
<line x1="1148.1" y1="585.2" x2="1356.1" y2="585.2" stroke="#333333" stroke-width="5" stroke-linecap="butt"/>
<line x1="1529.5" y1="59.6" x2="1529.5" y2="328.8" stroke="#333333" stroke-width="2.5" stroke-linecap="butt"/>
<line x1="1529.5" y1="531.2" x2="1529.5" y2="574.4" stroke="#333333" stroke-width="2.5" stroke-linecap="butt"/>
<rect x="1425.5" y="328.8" width="208" height="202.4" fill="#F4915A" fill-opacity="0.9" stroke="#333333" stroke-width="2.5"/>
<line x1="1425.5" y1="454.3" x2="1633.5" y2="454.3" stroke="#333333" stroke-width="5" stroke-linecap="butt"/>
<line x1="1806.9" y1="542.7" x2="1806.9" y2="563.9" stroke="#333333" stroke-width="2.5" stroke-linecap="butt"/>
<rect x="1702.9" y="563.9" width="208" height="22.1" fill="#7ECFB5" fill-opacity="0.9" stroke="#333333" stroke-width="2.5"/>
<line x1="1702.9" y1="574.8" x2="1910.9" y2="574.8" stroke="#333333" stroke-width="5" stroke-linecap="butt"/>
<circle cx="1179.4" cy="590.9" r="6.0" fill="#FBD1A1" fill-opacity="0.5" stroke="#FBD1A1" stroke-opacity="0.5" stroke-width="1.6"/>
<circle cx="1219.9" cy="577.6" r="6.0" fill="#FBD1A1" fill-opacity="0.5" stroke="#FBD1A1" stroke-opacity="0.5" stroke-width="1.6"/>
<circle cx="1283.1" cy="581.3" r="6.0" fill="#FBD1A1" fill-opacity="0.5" stroke="#FBD1A1" stroke-opacity="0.5" stroke-width="1.6"/>
<circle cx="1315.9" cy="581.3" r="6.0" fill="#FBD1A1" fill-opacity="0.5" stroke="#FBD1A1" stroke-opacity="0.5" stroke-width="1.6"/>
<circle cx="1483.6" cy="55.6" r="6.0" fill="#F4915A" fill-opacity="0.5" stroke="#F4915A" stroke-opacity="0.5" stroke-width="1.6"/>
<circle cx="1492.3" cy="128.7" r="6.0" fill="#F4915A" fill-opacity="0.5" stroke="#F4915A" stroke-opacity="0.5" stroke-width="1.6"/>
<circle cx="1594.7" cy="127" r="6.0" fill="#F4915A" fill-opacity="0.5" stroke="#F4915A" stroke-opacity="0.5" stroke-width="1.6"/>
<circle cx="1514.3" cy="156.6" r="6.0" fill="#F4915A" fill-opacity="0.5" stroke="#F4915A" stroke-opacity="0.5" stroke-width="1.6"/>
<circle cx="1481.2" cy="309.4" r="6.0" fill="#F4915A" fill-opacity="0.5" stroke="#F4915A" stroke-opacity="0.5" stroke-width="1.6"/>
<circle cx="1593.8" cy="336.4" r="6.0" fill="#F4915A" fill-opacity="0.5" stroke="#F4915A" stroke-opacity="0.5" stroke-width="1.6"/>
<circle cx="1497.3" cy="390.2" r="6.0" fill="#F4915A" fill-opacity="0.5" stroke="#F4915A" stroke-opacity="0.5" stroke-width="1.6"/>
<circle cx="1509.5" cy="387.2" r="6.0" fill="#F4915A" fill-opacity="0.5" stroke="#F4915A" stroke-opacity="0.5" stroke-width="1.6"/>
<circle cx="1510.4" cy="406.1" r="6.0" fill="#F4915A" fill-opacity="0.5" stroke="#F4915A" stroke-opacity="0.5" stroke-width="1.6"/>
<circle cx="1499.6" cy="424" r="6.0" fill="#F4915A" fill-opacity="0.5" stroke="#F4915A" stroke-opacity="0.5" stroke-width="1.6"/>
<circle cx="1527.7" cy="486.8" r="6.0" fill="#F4915A" fill-opacity="0.5" stroke="#F4915A" stroke-opacity="0.5" stroke-width="1.6"/>
<circle cx="1533.1" cy="510" r="6.0" fill="#F4915A" fill-opacity="0.5" stroke="#F4915A" stroke-opacity="0.5" stroke-width="1.6"/>
<circle cx="1546.3" cy="519.1" r="6.0" fill="#F4915A" fill-opacity="0.5" stroke="#F4915A" stroke-opacity="0.5" stroke-width="1.6"/>
<circle cx="1590.3" cy="521.3" r="6.0" fill="#F4915A" fill-opacity="0.5" stroke="#F4915A" stroke-opacity="0.5" stroke-width="1.6"/>
<circle cx="1494.8" cy="527.4" r="6.0" fill="#F4915A" fill-opacity="0.5" stroke="#F4915A" stroke-opacity="0.5" stroke-width="1.6"/>
<circle cx="1566.8" cy="528.2" r="6.0" fill="#F4915A" fill-opacity="0.5" stroke="#F4915A" stroke-opacity="0.5" stroke-width="1.6"/>
<circle cx="1475.8" cy="565.3" r="6.0" fill="#F4915A" fill-opacity="0.5" stroke="#F4915A" stroke-opacity="0.5" stroke-width="1.6"/>
<circle cx="1514" cy="564.6" r="6.0" fill="#F4915A" fill-opacity="0.5" stroke="#F4915A" stroke-opacity="0.5" stroke-width="1.6"/>
<circle cx="1576.6" cy="555.5" r="6.0" fill="#F4915A" fill-opacity="0.5" stroke="#F4915A" stroke-opacity="0.5" stroke-width="1.6"/>
<circle cx="1597.8" cy="571.4" r="6.0" fill="#F4915A" fill-opacity="0.5" stroke="#F4915A" stroke-opacity="0.5" stroke-width="1.6"/>
<circle cx="1851.4" cy="303.2" r="6.0" fill="#7ECFB5" fill-opacity="0.5" stroke="#7ECFB5" stroke-opacity="0.5" stroke-width="1.6"/>
<circle cx="1844.7" cy="428.4" r="6.0" fill="#7ECFB5" fill-opacity="0.5" stroke="#7ECFB5" stroke-opacity="0.5" stroke-width="1.6"/>
<circle cx="1740" cy="442.9" r="6.0" fill="#7ECFB5" fill-opacity="0.5" stroke="#7ECFB5" stroke-opacity="0.5" stroke-width="1.6"/>
<circle cx="1738.9" cy="461.9" r="6.0" fill="#7ECFB5" fill-opacity="0.5" stroke="#7ECFB5" stroke-opacity="0.5" stroke-width="1.6"/>
<circle cx="1755.5" cy="471.6" r="6.0" fill="#7ECFB5" fill-opacity="0.5" stroke="#7ECFB5" stroke-opacity="0.5" stroke-width="1.6"/>
<circle cx="1752.3" cy="491.1" r="6.0" fill="#7ECFB5" fill-opacity="0.5" stroke="#7ECFB5" stroke-opacity="0.5" stroke-width="1.6"/>
<circle cx="1813.1" cy="538.9" r="6.0" fill="#7ECFB5" fill-opacity="0.5" stroke="#7ECFB5" stroke-opacity="0.5" stroke-width="1.6"/>
<circle cx="1784" cy="552.4" r="6.0" fill="#7ECFB5" fill-opacity="0.5" stroke="#7ECFB5" stroke-opacity="0.5" stroke-width="1.6"/>
<circle cx="1787.4" cy="556.5" r="6.0" fill="#7ECFB5" fill-opacity="0.5" stroke="#7ECFB5" stroke-opacity="0.5" stroke-width="1.6"/>
<circle cx="1782.6" cy="559.7" r="6.0" fill="#7ECFB5" fill-opacity="0.5" stroke="#7ECFB5" stroke-opacity="0.5" stroke-width="1.6"/>
<circle cx="1763.6" cy="560.7" r="6.0" fill="#7ECFB5" fill-opacity="0.5" stroke="#7ECFB5" stroke-opacity="0.5" stroke-width="1.6"/>
<circle cx="1770.1" cy="564.8" r="6.0" fill="#7ECFB5" fill-opacity="0.5" stroke="#7ECFB5" stroke-opacity="0.5" stroke-width="1.6"/>
<circle cx="1848.4" cy="556.5" r="6.0" fill="#7ECFB5" fill-opacity="0.5" stroke="#7ECFB5" stroke-opacity="0.5" stroke-width="1.6"/>
<circle cx="1863" cy="560" r="6.0" fill="#7ECFB5" fill-opacity="0.5" stroke="#7ECFB5" stroke-opacity="0.5" stroke-width="1.6"/>
<circle cx="1835.9" cy="562.1" r="6.0" fill="#7ECFB5" fill-opacity="0.5" stroke="#7ECFB5" stroke-opacity="0.5" stroke-width="1.6"/>
<circle cx="1820.7" cy="561.4" r="6.0" fill="#7ECFB5" fill-opacity="0.5" stroke="#7ECFB5" stroke-opacity="0.5" stroke-width="1.6"/>
<circle cx="1811" cy="563.5" r="6.0" fill="#7ECFB5" fill-opacity="0.5" stroke="#7ECFB5" stroke-opacity="0.5" stroke-width="1.6"/>
<circle cx="1745.1" cy="571.1" r="6.0" fill="#7ECFB5" fill-opacity="0.5" stroke="#7ECFB5" stroke-opacity="0.5" stroke-width="1.6"/>
<circle cx="1793" cy="574.5" r="6.0" fill="#7ECFB5" fill-opacity="0.5" stroke="#7ECFB5" stroke-opacity="0.5" stroke-width="1.6"/>
<circle cx="1840.8" cy="573.2" r="6.0" fill="#7ECFB5" fill-opacity="0.5" stroke="#7ECFB5" stroke-opacity="0.5" stroke-width="1.6"/>
<circle cx="1858.8" cy="574.5" r="6.0" fill="#7ECFB5" fill-opacity="0.5" stroke="#7ECFB5" stroke-opacity="0.5" stroke-width="1.6"/>
<circle cx="1831.1" cy="575.2" r="6.0" fill="#7ECFB5" fill-opacity="0.5" stroke="#7ECFB5" stroke-opacity="0.5" stroke-width="1.6"/>
<circle cx="1759" cy="579.4" r="6.0" fill="#7ECFB5" fill-opacity="0.5" stroke="#7ECFB5" stroke-opacity="0.5" stroke-width="1.6"/>
<circle cx="1745.1" cy="588.4" r="6.0" fill="#7ECFB5" fill-opacity="0.5" stroke="#7ECFB5" stroke-opacity="0.5" stroke-width="1.6"/>
<circle cx="1741" cy="587.7" r="6.0" fill="#7ECFB5" fill-opacity="0.5" stroke="#7ECFB5" stroke-opacity="0.5" stroke-width="1.6"/>
<circle cx="1763.2" cy="588.4" r="6.0" fill="#7ECFB5" fill-opacity="0.5" stroke="#7ECFB5" stroke-opacity="0.5" stroke-width="1.6"/>
<circle cx="1779.1" cy="587.7" r="6.0" fill="#7ECFB5" fill-opacity="0.5" stroke="#7ECFB5" stroke-opacity="0.5" stroke-width="1.6"/>
<circle cx="1786" cy="591.2" r="6.0" fill="#7ECFB5" fill-opacity="0.5" stroke="#7ECFB5" stroke-opacity="0.5" stroke-width="1.6"/>
<circle cx="1799.9" cy="589.1" r="6.0" fill="#7ECFB5" fill-opacity="0.5" stroke="#7ECFB5" stroke-opacity="0.5" stroke-width="1.6"/>
<circle cx="1807.5" cy="586.3" r="6.0" fill="#7ECFB5" fill-opacity="0.5" stroke="#7ECFB5" stroke-opacity="0.5" stroke-width="1.6"/>
<circle cx="1827.6" cy="590.5" r="6.0" fill="#7ECFB5" fill-opacity="0.5" stroke="#7ECFB5" stroke-opacity="0.5" stroke-width="1.6"/>
<circle cx="1826.9" cy="582.2" r="6.0" fill="#7ECFB5" fill-opacity="0.5" stroke="#7ECFB5" stroke-opacity="0.5" stroke-width="1.6"/>
<circle cx="1842.9" cy="585.6" r="6.0" fill="#7ECFB5" fill-opacity="0.5" stroke="#7ECFB5" stroke-opacity="0.5" stroke-width="1.6"/>
<circle cx="1851.9" cy="583.5" r="6.0" fill="#7ECFB5" fill-opacity="0.5" stroke="#7ECFB5" stroke-opacity="0.5" stroke-width="1.6"/>
<circle cx="1867.1" cy="589.8" r="6.0" fill="#7ECFB5" fill-opacity="0.5" stroke="#7ECFB5" stroke-opacity="0.5" stroke-width="1.6"/>
<circle cx="1873.3" cy="589.1" r="6.0" fill="#7ECFB5" fill-opacity="0.5" stroke="#7ECFB5" stroke-opacity="0.5" stroke-width="1.6"/>
<circle cx="1771.5" cy="583.5" r="6.0" fill="#7ECFB5" fill-opacity="0.5" stroke="#7ECFB5" stroke-opacity="0.5" stroke-width="1.6"/>
<circle cx="1796.4" cy="584.9" r="6.0" fill="#7ECFB5" fill-opacity="0.5" stroke="#7ECFB5" stroke-opacity="0.5" stroke-width="1.6"/>
<circle cx="1818.6" cy="564.1" r="6.0" fill="#7ECFB5" fill-opacity="0.5" stroke="#7ECFB5" stroke-opacity="0.5" stroke-width="1.6"/>
<circle cx="1850.5" cy="565.5" r="6.0" fill="#7ECFB5" fill-opacity="0.5" stroke="#7ECFB5" stroke-opacity="0.5" stroke-width="1.6"/>
<rect x="1085.7" y="7.5" width="887.3" height="605.7" fill="none" stroke="#333333" stroke-width="2.7"/>
<line x1="1078.6" y1="596.3" x2="1085.7" y2="596.3" stroke="#333333" stroke-width="2.6" stroke-linecap="butt"/>
<text x="1073.2" y="603.7" font-size="20.6" fill="#4D4D4D" text-anchor="end">0</text>
<line x1="1078.6" y1="487.15" x2="1085.7" y2="487.15" stroke="#333333" stroke-width="2.6" stroke-linecap="butt"/>
<text x="1073.2" y="494.55" font-size="20.6" fill="#4D4D4D" text-anchor="end">10</text>
<line x1="1078.6" y1="378" x2="1085.7" y2="378" stroke="#333333" stroke-width="2.6" stroke-linecap="butt"/>
<text x="1073.2" y="385.4" font-size="20.6" fill="#4D4D4D" text-anchor="end">20</text>
<line x1="1078.6" y1="268.85" x2="1085.7" y2="268.85" stroke="#333333" stroke-width="2.6" stroke-linecap="butt"/>
<text x="1073.2" y="276.25" font-size="20.6" fill="#4D4D4D" text-anchor="end">30</text>
<line x1="1078.6" y1="159.7" x2="1085.7" y2="159.7" stroke="#333333" stroke-width="2.6" stroke-linecap="butt"/>
<text x="1073.2" y="167.1" font-size="20.6" fill="#4D4D4D" text-anchor="end">40</text>
<line x1="1078.6" y1="50.55" x2="1085.7" y2="50.55" stroke="#333333" stroke-width="2.6" stroke-linecap="butt"/>
<text x="1073.2" y="57.95" font-size="20.6" fill="#4D4D4D" text-anchor="end">50</text>
<line x1="1252.1" y1="613.2" x2="1252.1" y2="619.6" stroke="#333333" stroke-width="2.4" stroke-linecap="butt"/>
<line x1="1529.5" y1="613.2" x2="1529.5" y2="619.6" stroke="#333333" stroke-width="2.4" stroke-linecap="butt"/>
<line x1="1806.9" y1="613.2" x2="1806.9" y2="619.6" stroke="#333333" stroke-width="2.4" stroke-linecap="butt"/>
<text transform="translate(1215.14 643.3) scale(1 1.03)" font-size="27.90" fill="#4D4D4D">Single</text>
<text transform="translate(1501.4 643.3) scale(1 1.03)" font-size="27.90" fill="#4D4D4D">Both</text>
<text transform="translate(1786.9 643.3) scale(1 1.03)" font-size="27.90" fill="#4D4D4D">Group</text>
<text transform="translate(1388.95 672.2) scale(1 1.03)" font-size="25.57" fill="#000">Species growth category</text>
<text transform="translate(1019.37 29.7) scale(1 1.03)" font-size="33.00" fill="#000" font-weight="bold">B</text>
<line x1="107" y1="1228.66" x2="992" y2="1228.66" stroke="#EBEBEB" stroke-width="1.1" stroke-linecap="butt"/>
<line x1="107" y1="1114.18" x2="992" y2="1114.18" stroke="#EBEBEB" stroke-width="1.1" stroke-linecap="butt"/>
<line x1="107" y1="999.7" x2="992" y2="999.7" stroke="#EBEBEB" stroke-width="1.1" stroke-linecap="butt"/>
<line x1="107" y1="885.22" x2="992" y2="885.22" stroke="#EBEBEB" stroke-width="1.1" stroke-linecap="butt"/>
<line x1="107" y1="770.74" x2="992" y2="770.74" stroke="#EBEBEB" stroke-width="1.1" stroke-linecap="butt"/>
<line x1="107" y1="1285.9" x2="992" y2="1285.9" stroke="#EBEBEB" stroke-width="2.0" stroke-linecap="butt"/>
<line x1="107" y1="1171.42" x2="992" y2="1171.42" stroke="#EBEBEB" stroke-width="2.0" stroke-linecap="butt"/>
<line x1="107" y1="1056.94" x2="992" y2="1056.94" stroke="#EBEBEB" stroke-width="2.0" stroke-linecap="butt"/>
<line x1="107" y1="942.46" x2="992" y2="942.46" stroke="#EBEBEB" stroke-width="2.0" stroke-linecap="butt"/>
<line x1="107" y1="827.98" x2="992" y2="827.98" stroke="#EBEBEB" stroke-width="2.0" stroke-linecap="butt"/>
<line x1="107" y1="713.5" x2="992" y2="713.5" stroke="#EBEBEB" stroke-width="2.0" stroke-linecap="butt"/>
<line x1="230.6" y1="699" x2="230.6" y2="1301.3" stroke="#EBEBEB" stroke-width="1.1" stroke-linecap="butt"/>
<line x1="399" y1="699" x2="399" y2="1301.3" stroke="#EBEBEB" stroke-width="1.1" stroke-linecap="butt"/>
<line x1="567.4" y1="699" x2="567.4" y2="1301.3" stroke="#EBEBEB" stroke-width="1.1" stroke-linecap="butt"/>
<line x1="735.8" y1="699" x2="735.8" y2="1301.3" stroke="#EBEBEB" stroke-width="1.1" stroke-linecap="butt"/>
<line x1="904.2" y1="699" x2="904.2" y2="1301.3" stroke="#EBEBEB" stroke-width="1.1" stroke-linecap="butt"/>
<line x1="146.4" y1="699" x2="146.4" y2="1301.3" stroke="#EBEBEB" stroke-width="2.0" stroke-linecap="butt"/>
<line x1="314.8" y1="699" x2="314.8" y2="1301.3" stroke="#EBEBEB" stroke-width="2.0" stroke-linecap="butt"/>
<line x1="483.2" y1="699" x2="483.2" y2="1301.3" stroke="#EBEBEB" stroke-width="2.0" stroke-linecap="butt"/>
<line x1="651.6" y1="699" x2="651.6" y2="1301.3" stroke="#EBEBEB" stroke-width="2.0" stroke-linecap="butt"/>
<line x1="820" y1="699" x2="820" y2="1301.3" stroke="#EBEBEB" stroke-width="2.0" stroke-linecap="butt"/>
<line x1="988.4" y1="699" x2="988.4" y2="1301.3" stroke="#EBEBEB" stroke-width="2.0" stroke-linecap="butt"/>
<circle cx="170.8" cy="725.2" r="9.1" fill="#F4915A"/>
<circle cx="171.1" cy="793.9" r="9.1" fill="#F4915A"/>
<circle cx="178.3" cy="793.9" r="9.1" fill="#F4915A"/>
<circle cx="242.8" cy="827.8" r="9.1" fill="#F4915A"/>
<circle cx="163.2" cy="977.1" r="9.1" fill="#7ECFB5"/>
<circle cx="149.3" cy="988.6" r="9.1" fill="#F4915A"/>
<circle cx="160.8" cy="1011.4" r="9.1" fill="#F4915A"/>
<circle cx="152.3" cy="1068.5" r="9.1" fill="#F4915A"/>
<circle cx="274.4" cy="1068.5" r="9.1" fill="#F4915A"/>
<circle cx="153.4" cy="1091.3" r="9.1" fill="#F4915A"/>
<circle cx="155.9" cy="1103.4" r="9.1" fill="#F4915A"/>
<circle cx="244.2" cy="1114.3" r="9.1" fill="#7ECFB5"/>
<circle cx="237.1" cy="1125.8" r="9.1" fill="#7ECFB5"/>
<circle cx="184.9" cy="1148.3" r="9.1" fill="#7ECFB5"/>
<circle cx="162.9" cy="1159.9" r="9.1" fill="#7ECFB5"/>
<circle cx="152.3" cy="1171.7" r="9.1" fill="#F4915A"/>
<circle cx="153.1" cy="1171.7" r="9.1" fill="#7ECFB5"/>
<circle cx="147" cy="1194.2" r="9.1" fill="#F4915A"/>
<circle cx="148.5" cy="1206" r="9.1" fill="#F4915A"/>
<circle cx="153" cy="1200" r="9.1" fill="#F4915A"/>
<circle cx="147.7" cy="1217.3" r="9.1" fill="#F4915A"/>
<circle cx="159.9" cy="1217.3" r="9.1" fill="#F4915A"/>
<circle cx="150" cy="1275" r="9.1" fill="#FBD1A1"/>
<circle cx="152" cy="1275.5" r="9.1" fill="#FBD1A1"/>
<circle cx="154.6" cy="1238.6" r="9.1" fill="#F4915A"/>
<circle cx="148.9" cy="1228.7" r="9.1" fill="#7ECFB5"/>
<circle cx="146.2" cy="1239.7" r="9.1" fill="#7ECFB5"/>
<circle cx="168.6" cy="1240.1" r="9.1" fill="#7ECFB5"/>
<circle cx="147" cy="1262.8" r="9.1" fill="#F4915A"/>
<circle cx="146.2" cy="1251.4" r="9.1" fill="#7ECFB5"/>
<circle cx="154.2" cy="1251.4" r="9.1" fill="#F4915A"/>
<circle cx="192.1" cy="1251.4" r="9.1" fill="#7ECFB5"/>
<circle cx="184.9" cy="1262.8" r="9.1" fill="#7ECFB5"/>
<circle cx="146.2" cy="1262.8" r="9.1" fill="#7ECFB5"/>
<circle cx="160.6" cy="1275.7" r="9.1" fill="#7ECFB5"/>
<circle cx="170.5" cy="1275.7" r="9.1" fill="#7ECFB5"/>
<circle cx="185.7" cy="1275" r="9.1" fill="#7ECFB5"/>
<circle cx="147" cy="1274.6" r="9.1" fill="#7ECFB5"/>
<circle cx="228.9" cy="1274.6" r="9.1" fill="#FBD1A1"/>
<circle cx="245.2" cy="1274.6" r="9.1" fill="#7ECFB5"/>
<circle cx="308.1" cy="1262.6" r="9.1" fill="#7ECFB5"/>
<circle cx="952.6" cy="1251.6" r="9.1" fill="#7ECFB5"/>
<line x1="146.1" y1="1127.9" x2="274.3" y2="838.7" stroke="#F4915A" stroke-width="4.8" stroke-linecap="butt"/>
<line x1="145.8" y1="1245.8" x2="953.2" y2="1223.7" stroke="#7ECFB5" stroke-width="4.8" stroke-linecap="butt"/>
<line x1="145.8" y1="1270.4" x2="228.9" y2="1275.2" stroke="#FBD1A1" stroke-width="4.8" stroke-linecap="butt"/>
<rect x="107" y="699" width="885" height="602.3" fill="none" stroke="#333333" stroke-width="2.7"/>
<line x1="99.2" y1="1285.9" x2="107" y2="1285.9" stroke="#333333" stroke-width="2.6" stroke-linecap="butt"/>
<text x="94.1" y="1293.3" font-size="20.6" fill="#4D4D4D" text-anchor="end">0</text>
<line x1="99.2" y1="1171.42" x2="107" y2="1171.42" stroke="#333333" stroke-width="2.6" stroke-linecap="butt"/>
<text x="94.1" y="1178.82" font-size="20.6" fill="#4D4D4D" text-anchor="end">10</text>
<line x1="99.2" y1="1056.94" x2="107" y2="1056.94" stroke="#333333" stroke-width="2.6" stroke-linecap="butt"/>
<text x="94.1" y="1064.34" font-size="20.6" fill="#4D4D4D" text-anchor="end">20</text>
<line x1="99.2" y1="942.46" x2="107" y2="942.46" stroke="#333333" stroke-width="2.6" stroke-linecap="butt"/>
<text x="94.1" y="949.86" font-size="20.6" fill="#4D4D4D" text-anchor="end">30</text>
<line x1="99.2" y1="827.98" x2="107" y2="827.98" stroke="#333333" stroke-width="2.6" stroke-linecap="butt"/>
<text x="94.1" y="835.38" font-size="20.6" fill="#4D4D4D" text-anchor="end">40</text>
<line x1="99.2" y1="713.5" x2="107" y2="713.5" stroke="#333333" stroke-width="2.6" stroke-linecap="butt"/>
<text x="94.1" y="720.9" font-size="20.6" fill="#4D4D4D" text-anchor="end">50</text>
<line x1="146.4" y1="1301.3" x2="146.4" y2="1308.7" stroke="#333333" stroke-width="2.4" stroke-linecap="butt"/>
<text x="146.4" y="1329.4" font-size="20.6" fill="#4D4D4D" text-anchor="middle">0</text>
<line x1="314.8" y1="1301.3" x2="314.8" y2="1308.7" stroke="#333333" stroke-width="2.4" stroke-linecap="butt"/>
<text x="314.8" y="1329.4" font-size="20.6" fill="#4D4D4D" text-anchor="middle">1</text>
<line x1="483.2" y1="1301.3" x2="483.2" y2="1308.7" stroke="#333333" stroke-width="2.4" stroke-linecap="butt"/>
<text x="483.2" y="1329.4" font-size="20.6" fill="#4D4D4D" text-anchor="middle">2</text>
<line x1="651.6" y1="1301.3" x2="651.6" y2="1308.7" stroke="#333333" stroke-width="2.4" stroke-linecap="butt"/>
<text x="651.6" y="1329.4" font-size="20.6" fill="#4D4D4D" text-anchor="middle">3</text>
<line x1="820" y1="1301.3" x2="820" y2="1308.7" stroke="#333333" stroke-width="2.4" stroke-linecap="butt"/>
<text x="820" y="1329.4" font-size="20.6" fill="#4D4D4D" text-anchor="middle">4</text>
<line x1="988.4" y1="1301.3" x2="988.4" y2="1308.7" stroke="#333333" stroke-width="2.4" stroke-linecap="butt"/>
<text x="988.4" y="1329.4" font-size="20.6" fill="#4D4D4D" text-anchor="middle">5</text>
<text transform="translate(307.31 1362) scale(1 1.03)" font-size="27.80" fill="#000">Relative abundance in sample of origin (%)</text>
<text transform="translate(20.9 1165.85) rotate(-90) scale(1 1.03)" font-size="27.87" fill="#000">Summed number of genomes</text>
<text transform="translate(55 1109.8) rotate(-90) scale(1 1.03)" font-size="27.73" fill="#000">per species-cluster</text>
<text transform="translate(40.08 720) scale(1 1.03)" font-size="33.00" fill="#000" font-weight="bold">C</text>
<text y="752.8" font-size="25.6" fill="#F4915A"><tspan x="670.54" font-style="italic">ρ</tspan><tspan x="693.32">=</tspan><tspan x="714.38">0.67,</tspan><tspan x="779.44" font-style="italic">p</tspan><tspan x="798.42">=</tspan><tspan x="819.88">0.0013</tspan></text>
<text y="786" font-size="25.6" fill="#7ECFB5"><tspan x="670.54" font-style="italic">ρ</tspan><tspan x="693.32">=</tspan><tspan x="714.38">0.38,</tspan><tspan x="779.44" font-style="italic">p</tspan><tspan x="798.42">=</tspan><tspan x="819.88">0.0085</tspan></text>
<text y="818.6" font-size="25.6" fill="#FBD1A1"><tspan x="670.54" font-style="italic">ρ</tspan><tspan x="693.32">=</tspan><tspan x="714.32">−</tspan><tspan x="732.68">0.77,</tspan><tspan x="797.34" font-style="italic">p</tspan><tspan x="816.22">=</tspan><tspan x="837.28">0.23</tspan></text>
<line x1="1086" y1="1228.66" x2="1970" y2="1228.66" stroke="#EBEBEB" stroke-width="1.1" stroke-linecap="butt"/>
<line x1="1086" y1="1114.18" x2="1970" y2="1114.18" stroke="#EBEBEB" stroke-width="1.1" stroke-linecap="butt"/>
<line x1="1086" y1="999.7" x2="1970" y2="999.7" stroke="#EBEBEB" stroke-width="1.1" stroke-linecap="butt"/>
<line x1="1086" y1="885.22" x2="1970" y2="885.22" stroke="#EBEBEB" stroke-width="1.1" stroke-linecap="butt"/>
<line x1="1086" y1="770.74" x2="1970" y2="770.74" stroke="#EBEBEB" stroke-width="1.1" stroke-linecap="butt"/>
<line x1="1086" y1="1285.9" x2="1970" y2="1285.9" stroke="#EBEBEB" stroke-width="2.0" stroke-linecap="butt"/>
<line x1="1086" y1="1171.42" x2="1970" y2="1171.42" stroke="#EBEBEB" stroke-width="2.0" stroke-linecap="butt"/>
<line x1="1086" y1="1056.94" x2="1970" y2="1056.94" stroke="#EBEBEB" stroke-width="2.0" stroke-linecap="butt"/>
<line x1="1086" y1="942.46" x2="1970" y2="942.46" stroke="#EBEBEB" stroke-width="2.0" stroke-linecap="butt"/>
<line x1="1086" y1="827.98" x2="1970" y2="827.98" stroke="#EBEBEB" stroke-width="2.0" stroke-linecap="butt"/>
<line x1="1086" y1="713.5" x2="1970" y2="713.5" stroke="#EBEBEB" stroke-width="2.0" stroke-linecap="butt"/>
<line x1="1238.45" y1="698.5" x2="1238.45" y2="1301.2" stroke="#EBEBEB" stroke-width="1.1" stroke-linecap="butt"/>
<line x1="1466.95" y1="698.5" x2="1466.95" y2="1301.2" stroke="#EBEBEB" stroke-width="1.1" stroke-linecap="butt"/>
<line x1="1695.45" y1="698.5" x2="1695.45" y2="1301.2" stroke="#EBEBEB" stroke-width="1.1" stroke-linecap="butt"/>
<line x1="1923.95" y1="698.5" x2="1923.95" y2="1301.2" stroke="#EBEBEB" stroke-width="1.1" stroke-linecap="butt"/>
<line x1="1124.2" y1="698.5" x2="1124.2" y2="1301.2" stroke="#EBEBEB" stroke-width="2.0" stroke-linecap="butt"/>
<line x1="1352.7" y1="698.5" x2="1352.7" y2="1301.2" stroke="#EBEBEB" stroke-width="2.0" stroke-linecap="butt"/>
<line x1="1581.2" y1="698.5" x2="1581.2" y2="1301.2" stroke="#EBEBEB" stroke-width="2.0" stroke-linecap="butt"/>
<line x1="1809.7" y1="698.5" x2="1809.7" y2="1301.2" stroke="#EBEBEB" stroke-width="2.0" stroke-linecap="butt"/>
<circle cx="1727.7" cy="725" r="9.1" fill="#F4915A"/>
<circle cx="1560" cy="793.5" r="9.1" fill="#F4915A"/>
<circle cx="1776.3" cy="793.5" r="9.1" fill="#F4915A"/>
<circle cx="1825.5" cy="828.3" r="9.1" fill="#F4915A"/>
<circle cx="1646.3" cy="977.1" r="9.1" fill="#7ECFB5"/>
<circle cx="1206" cy="988.4" r="9.1" fill="#F4915A"/>
<circle cx="1140.7" cy="1011.6" r="9.1" fill="#F4915A"/>
<circle cx="1140.7" cy="1068.6" r="9.1" fill="#F4915A"/>
<circle cx="1140.7" cy="1103.2" r="9.1" fill="#F4915A"/>
<circle cx="1140.7" cy="1171.7" r="9.1" fill="#F4915A"/>
<circle cx="1157" cy="1194.9" r="9.1" fill="#F4915A"/>
<circle cx="1197.9" cy="1206.1" r="9.1" fill="#F4915A"/>
<circle cx="1230.3" cy="1206.1" r="9.1" fill="#F4915A"/>
<circle cx="1140.8" cy="1217.8" r="9.1" fill="#F4915A"/>
<circle cx="1140.8" cy="1229" r="9.1" fill="#7ECFB5"/>
<circle cx="1132" cy="1251.4" r="9.1" fill="#F4915A"/>
<circle cx="1140.8" cy="1252" r="9.1" fill="#7ECFB5"/>
<circle cx="1140.8" cy="1240.8" r="9.1" fill="#F4915A"/>
<circle cx="1165.2" cy="1240.2" r="9.1" fill="#7ECFB5"/>
<circle cx="1173.3" cy="1252" r="9.1" fill="#7ECFB5"/>
<circle cx="1205.9" cy="1252" r="9.1" fill="#F4915A"/>
<circle cx="1132.5" cy="1263.2" r="9.1" fill="#F4915A"/>
<circle cx="1271.6" cy="1263.2" r="9.1" fill="#FBD1A1"/>
<circle cx="1238.6" cy="1263.2" r="9.1" fill="#7ECFB5"/>
<circle cx="1263.1" cy="1263.2" r="9.1" fill="#7ECFB5"/>
<circle cx="1141" cy="1274.9" r="9.1" fill="#FBD1A1"/>
<circle cx="1165.2" cy="1274.9" r="9.1" fill="#FBD1A1"/>
<circle cx="1124.5" cy="1274.9" r="9.1" fill="#7ECFB5"/>
<circle cx="1133" cy="1274.9" r="9.1" fill="#7ECFB5"/>
<circle cx="1149" cy="1274.9" r="9.1" fill="#7ECFB5"/>
<circle cx="1173.6" cy="1274.9" r="9.1" fill="#7ECFB5"/>
<circle cx="1189.6" cy="1274.9" r="9.1" fill="#7ECFB5"/>
<circle cx="1206.1" cy="1274.9" r="9.1" fill="#7ECFB5"/>
<circle cx="1238.6" cy="1274.9" r="9.1" fill="#7ECFB5"/>
<circle cx="1352.6" cy="1251.8" r="9.1" fill="#7ECFB5"/>
<circle cx="1377.3" cy="1263.3" r="9.1" fill="#7ECFB5"/>
<circle cx="1515.9" cy="1091.6" r="9.1" fill="#F4915A"/>
<circle cx="1434.3" cy="1171.7" r="9.1" fill="#7ECFB5"/>
<circle cx="1434.3" cy="1217.6" r="9.1" fill="#F4915A"/>
<circle cx="1466.8" cy="1252" r="9.1" fill="#7ECFB5"/>
<circle cx="1499.4" cy="1240.3" r="9.1" fill="#7ECFB5"/>
<circle cx="1499.4" cy="1252" r="9.1" fill="#7ECFB5"/>
<circle cx="1507.7" cy="1252" r="9.1" fill="#7ECFB5"/>
<circle cx="1548.3" cy="1263.4" r="9.1" fill="#7ECFB5"/>
<circle cx="1613.4" cy="1252" r="9.1" fill="#7ECFB5"/>
<circle cx="1613.4" cy="1263.4" r="9.1" fill="#7ECFB5"/>
<circle cx="1670.4" cy="1252" r="9.1" fill="#7ECFB5"/>
<circle cx="1450.3" cy="1274.6" r="9.1" fill="#7ECFB5"/>
<circle cx="1515.9" cy="1274.6" r="9.1" fill="#7ECFB5"/>
<circle cx="1695.2" cy="1274.7" r="9.1" fill="#7ECFB5"/>
<circle cx="1711.4" cy="1274.7" r="9.1" fill="#7ECFB5"/>
<circle cx="1743.9" cy="1274.7" r="9.1" fill="#7ECFB5"/>
<circle cx="1801" cy="1274.7" r="9.1" fill="#FBD1A1"/>
<circle cx="1825.5" cy="1114.3" r="9.1" fill="#7ECFB5"/>
<circle cx="1907" cy="1126.1" r="9.1" fill="#7ECFB5"/>
<circle cx="1735.9" cy="1148.9" r="9.1" fill="#7ECFB5"/>
<circle cx="1784.8" cy="1160.3" r="9.1" fill="#7ECFB5"/>
<circle cx="1931.6" cy="1240.8" r="9.1" fill="#7ECFB5"/>
<circle cx="1907" cy="1252.2" r="9.1" fill="#7ECFB5"/>
<circle cx="1817.3" cy="1263.6" r="9.1" fill="#7ECFB5"/>
<circle cx="1833.6" cy="1275" r="9.1" fill="#7ECFB5"/>
<line x1="1133" y1="1182.5" x2="1825.5" y2="787.3" stroke="#F4915A" stroke-width="4.8" stroke-linecap="butt"/>
<line x1="1124.4" y1="1269.5" x2="1931.6" y2="1199.5" stroke="#7ECFB5" stroke-width="4.8" stroke-linecap="butt"/>
<line x1="1140.5" y1="1271.7" x2="1801" y2="1274.1" stroke="#FBD1A1" stroke-width="4.8" stroke-linecap="butt"/>
<rect x="1086" y="698.5" width="884" height="602.7" fill="none" stroke="#333333" stroke-width="2.7"/>
<line x1="1078.6" y1="1285.9" x2="1086" y2="1285.9" stroke="#333333" stroke-width="2.6" stroke-linecap="butt"/>
<text x="1073.2" y="1293.3" font-size="20.6" fill="#4D4D4D" text-anchor="end">0</text>
<line x1="1078.6" y1="1171.42" x2="1086" y2="1171.42" stroke="#333333" stroke-width="2.6" stroke-linecap="butt"/>
<text x="1073.2" y="1178.82" font-size="20.6" fill="#4D4D4D" text-anchor="end">10</text>
<line x1="1078.6" y1="1056.94" x2="1086" y2="1056.94" stroke="#333333" stroke-width="2.6" stroke-linecap="butt"/>
<text x="1073.2" y="1064.34" font-size="20.6" fill="#4D4D4D" text-anchor="end">20</text>
<line x1="1078.6" y1="942.46" x2="1086" y2="942.46" stroke="#333333" stroke-width="2.6" stroke-linecap="butt"/>
<text x="1073.2" y="949.86" font-size="20.6" fill="#4D4D4D" text-anchor="end">30</text>
<line x1="1078.6" y1="827.98" x2="1086" y2="827.98" stroke="#333333" stroke-width="2.6" stroke-linecap="butt"/>
<text x="1073.2" y="835.38" font-size="20.6" fill="#4D4D4D" text-anchor="end">40</text>
<line x1="1078.6" y1="713.5" x2="1086" y2="713.5" stroke="#333333" stroke-width="2.6" stroke-linecap="butt"/>
<text x="1073.2" y="720.9" font-size="20.6" fill="#4D4D4D" text-anchor="end">50</text>
<line x1="1124.2" y1="1301.2" x2="1124.2" y2="1308.7" stroke="#333333" stroke-width="2.4" stroke-linecap="butt"/>
<text x="1124.2" y="1329.4" font-size="20.6" fill="#4D4D4D" text-anchor="middle">0</text>
<line x1="1352.7" y1="1301.2" x2="1352.7" y2="1308.7" stroke="#333333" stroke-width="2.4" stroke-linecap="butt"/>
<text x="1352.7" y="1329.4" font-size="20.6" fill="#4D4D4D" text-anchor="middle">25</text>
<line x1="1581.2" y1="1301.2" x2="1581.2" y2="1308.7" stroke="#333333" stroke-width="2.4" stroke-linecap="butt"/>
<text x="1581.2" y="1329.4" font-size="20.6" fill="#4D4D4D" text-anchor="middle">50</text>
<line x1="1809.7" y1="1301.2" x2="1809.7" y2="1308.7" stroke="#333333" stroke-width="2.4" stroke-linecap="butt"/>
<text x="1809.7" y="1329.4" font-size="20.6" fill="#4D4D4D" text-anchor="middle">75</text>
<text transform="translate(1387.22 1361.5) scale(1 1.03)" font-size="27.65" fill="#000">Prevalence in environment (%)</text>
<text transform="translate(1018.27 719.8) scale(1 1.03)" font-size="33.00" fill="#000" font-weight="bold">D</text>
<text y="752.6" font-size="25.6" fill="#F4915A"><tspan x="1148.54" font-style="italic">ρ</tspan><tspan x="1171.32">=</tspan><tspan x="1192.38">0.59,</tspan><tspan x="1257.44" font-style="italic">p</tspan><tspan x="1276.42">=</tspan><tspan x="1297.88">0.0059</tspan></text>
<text y="785.9" font-size="25.6" fill="#7ECFB5"><tspan x="1148.54" font-style="italic">ρ</tspan><tspan x="1171.32">=</tspan><tspan x="1192.38">0.51,</tspan><tspan x="1257.44" font-style="italic">p</tspan><tspan x="1276.42">=</tspan><tspan x="1297.88">0.00022</tspan></text>
<text y="818.6" font-size="25.6" fill="#FBD1A1"><tspan x="1148.54" font-style="italic">ρ</tspan><tspan x="1171.32">=</tspan><tspan x="1192.38">0.26,</tspan><tspan x="1257.44" font-style="italic">p</tspan><tspan x="1276.42">=</tspan><tspan x="1297.88">0.74</tspan></text>
<line x1="102.7" y1="1958.68" x2="983.6" y2="1958.68" stroke="#EBEBEB" stroke-width="1.1" stroke-linecap="butt"/>
<line x1="102.7" y1="1849.73" x2="983.6" y2="1849.73" stroke="#EBEBEB" stroke-width="1.1" stroke-linecap="butt"/>
<line x1="102.7" y1="1740.78" x2="983.6" y2="1740.78" stroke="#EBEBEB" stroke-width="1.1" stroke-linecap="butt"/>
<line x1="102.7" y1="1631.83" x2="983.6" y2="1631.83" stroke="#EBEBEB" stroke-width="1.1" stroke-linecap="butt"/>
<line x1="102.7" y1="1522.88" x2="983.6" y2="1522.88" stroke="#EBEBEB" stroke-width="1.1" stroke-linecap="butt"/>
<line x1="102.7" y1="1413.93" x2="983.6" y2="1413.93" stroke="#EBEBEB" stroke-width="1.1" stroke-linecap="butt"/>
<line x1="102.7" y1="1904.2" x2="983.6" y2="1904.2" stroke="#EBEBEB" stroke-width="2.0" stroke-linecap="butt"/>
<line x1="102.7" y1="1795.25" x2="983.6" y2="1795.25" stroke="#EBEBEB" stroke-width="2.0" stroke-linecap="butt"/>
<line x1="102.7" y1="1686.3" x2="983.6" y2="1686.3" stroke="#EBEBEB" stroke-width="2.0" stroke-linecap="butt"/>
<line x1="102.7" y1="1577.35" x2="983.6" y2="1577.35" stroke="#EBEBEB" stroke-width="2.0" stroke-linecap="butt"/>
<line x1="102.7" y1="1468.4" x2="983.6" y2="1468.4" stroke="#EBEBEB" stroke-width="2.0" stroke-linecap="butt"/>
<line x1="343.6" y1="1410" x2="343.6" y2="2005" stroke="#EBEBEB" stroke-width="2.0" stroke-linecap="butt"/>
<line x1="751" y1="1410" x2="751" y2="2005" stroke="#EBEBEB" stroke-width="2.0" stroke-linecap="butt"/>
<line x1="343.6" y1="1551.5" x2="343.6" y2="1706.5" stroke="#000" stroke-width="3.0" stroke-linecap="butt"/>
<line x1="343.6" y1="1839.4" x2="343.6" y2="1922.8" stroke="#000" stroke-width="3.0" stroke-linecap="butt"/>
<rect x="262.1" y="1706.5" width="163" height="132.9" fill="#FBD1A1" fill-opacity="0.9" stroke="#000" stroke-width="3.0"/>
<line x1="262.1" y1="1775.1" x2="425.1" y2="1775.1" stroke="#000" stroke-width="5.8" stroke-linecap="butt"/>
<line x1="751" y1="1491.1" x2="751" y2="1702.5" stroke="#000" stroke-width="3.0" stroke-linecap="butt"/>
<line x1="751" y1="1871" x2="751" y2="1979" stroke="#000" stroke-width="3.0" stroke-linecap="butt"/>
<rect x="669.5" y="1702.5" width="163" height="168.5" fill="#7ECFB5" fill-opacity="0.9" stroke="#000" stroke-width="3.0"/>
<line x1="669.5" y1="1804.3" x2="832.5" y2="1804.3" stroke="#000" stroke-width="5.8" stroke-linecap="butt"/>
<circle cx="371.6" cy="1552.8" r="6.1" fill="#FBD1A1" fill-opacity="0.7" stroke="#FBD1A1" stroke-opacity="0.7" stroke-width="1.6"/>
<circle cx="365.8" cy="1624" r="6.1" fill="#FBD1A1" fill-opacity="0.7" stroke="#FBD1A1" stroke-opacity="0.7" stroke-width="1.6"/>
<circle cx="424" cy="1624" r="6.1" fill="#FBD1A1" fill-opacity="0.7" stroke="#FBD1A1" stroke-opacity="0.7" stroke-width="1.6"/>
<circle cx="440.7" cy="1613.2" r="6.1" fill="#FBD1A1" fill-opacity="0.7" stroke="#FBD1A1" stroke-opacity="0.7" stroke-width="1.6"/>
<circle cx="340.3" cy="1643" r="6.1" fill="#FBD1A1" fill-opacity="0.7" stroke="#FBD1A1" stroke-opacity="0.7" stroke-width="1.6"/>
<circle cx="349.2" cy="1658.3" r="6.1" fill="#FBD1A1" fill-opacity="0.7" stroke="#FBD1A1" stroke-opacity="0.7" stroke-width="1.6"/>
<circle cx="321.1" cy="1724.2" r="6.1" fill="#FBD1A1" fill-opacity="0.7" stroke="#FBD1A1" stroke-opacity="0.7" stroke-width="1.6"/>
<circle cx="409.3" cy="1762" r="6.1" fill="#FBD1A1" fill-opacity="0.7" stroke="#FBD1A1" stroke-opacity="0.7" stroke-width="1.6"/>
<circle cx="242.8" cy="1756.2" r="6.1" fill="#FBD1A1" fill-opacity="0.7" stroke="#FBD1A1" stroke-opacity="0.7" stroke-width="1.6"/>
<circle cx="259" cy="1767.7" r="6.1" fill="#FBD1A1" fill-opacity="0.7" stroke="#FBD1A1" stroke-opacity="0.7" stroke-width="1.6"/>
<circle cx="243.7" cy="1774.8" r="6.1" fill="#FBD1A1" fill-opacity="0.7" stroke="#FBD1A1" stroke-opacity="0.7" stroke-width="1.6"/>
<circle cx="300" cy="1774.1" r="6.1" fill="#FBD1A1" fill-opacity="0.7" stroke="#FBD1A1" stroke-opacity="0.7" stroke-width="1.6"/>
<circle cx="387" cy="1775.4" r="6.1" fill="#FBD1A1" fill-opacity="0.7" stroke="#FBD1A1" stroke-opacity="0.7" stroke-width="1.6"/>
<circle cx="274.4" cy="1779.2" r="6.1" fill="#FBD1A1" fill-opacity="0.7" stroke="#FBD1A1" stroke-opacity="0.7" stroke-width="1.6"/>
<circle cx="405.2" cy="1786" r="6.1" fill="#FBD1A1" fill-opacity="0.7" stroke="#FBD1A1" stroke-opacity="0.7" stroke-width="1.6"/>
<circle cx="427.9" cy="1816.4" r="6.1" fill="#FBD1A1" fill-opacity="0.7" stroke="#FBD1A1" stroke-opacity="0.7" stroke-width="1.6"/>
<circle cx="261" cy="1837.8" r="6.1" fill="#FBD1A1" fill-opacity="0.7" stroke="#FBD1A1" stroke-opacity="0.7" stroke-width="1.6"/>
<circle cx="264.8" cy="1848.6" r="6.1" fill="#FBD1A1" fill-opacity="0.7" stroke="#FBD1A1" stroke-opacity="0.7" stroke-width="1.6"/>
<circle cx="264.8" cy="1851" r="6.1" fill="#FBD1A1" fill-opacity="0.7" stroke="#FBD1A1" stroke-opacity="0.7" stroke-width="1.6"/>
<circle cx="295.5" cy="1858.6" r="6.1" fill="#FBD1A1" fill-opacity="0.7" stroke="#FBD1A1" stroke-opacity="0.7" stroke-width="1.6"/>
<circle cx="387" cy="1854.4" r="6.1" fill="#FBD1A1" fill-opacity="0.7" stroke="#FBD1A1" stroke-opacity="0.7" stroke-width="1.6"/>
<circle cx="383.1" cy="1890.9" r="6.1" fill="#FBD1A1" fill-opacity="0.7" stroke="#FBD1A1" stroke-opacity="0.7" stroke-width="1.6"/>
<circle cx="312.1" cy="1923.5" r="6.1" fill="#FBD1A1" fill-opacity="0.7" stroke="#FBD1A1" stroke-opacity="0.7" stroke-width="1.6"/>
<circle cx="690" cy="1499.4" r="6.1" fill="#7ECFB5" fill-opacity="0.7" stroke="#7ECFB5" stroke-opacity="0.7" stroke-width="1.6"/>
<circle cx="835.9" cy="1491.4" r="6.1" fill="#7ECFB5" fill-opacity="0.7" stroke="#7ECFB5" stroke-opacity="0.7" stroke-width="1.6"/>
<circle cx="726.7" cy="1567" r="6.1" fill="#7ECFB5" fill-opacity="0.7" stroke="#7ECFB5" stroke-opacity="0.7" stroke-width="1.6"/>
<circle cx="800.9" cy="1570.8" r="6.1" fill="#7ECFB5" fill-opacity="0.7" stroke="#7ECFB5" stroke-opacity="0.7" stroke-width="1.6"/>
<circle cx="715.6" cy="1587.4" r="6.1" fill="#7ECFB5" fill-opacity="0.7" stroke="#7ECFB5" stroke-opacity="0.7" stroke-width="1.6"/>
<circle cx="710.1" cy="1608.9" r="6.1" fill="#7ECFB5" fill-opacity="0.7" stroke="#7ECFB5" stroke-opacity="0.7" stroke-width="1.6"/>
<circle cx="807.1" cy="1614.2" r="6.1" fill="#7ECFB5" fill-opacity="0.7" stroke="#7ECFB5" stroke-opacity="0.7" stroke-width="1.6"/>
<circle cx="660.9" cy="1638" r="6.1" fill="#7ECFB5" fill-opacity="0.7" stroke="#7ECFB5" stroke-opacity="0.7" stroke-width="1.6"/>
<circle cx="671.3" cy="1666.8" r="6.1" fill="#7ECFB5" fill-opacity="0.7" stroke="#7ECFB5" stroke-opacity="0.7" stroke-width="1.6"/>
<circle cx="696.9" cy="1672" r="6.1" fill="#7ECFB5" fill-opacity="0.7" stroke="#7ECFB5" stroke-opacity="0.7" stroke-width="1.6"/>
<circle cx="772" cy="1689.6" r="6.1" fill="#7ECFB5" fill-opacity="0.7" stroke="#7ECFB5" stroke-opacity="0.7" stroke-width="1.6"/>
<circle cx="849.8" cy="1695.8" r="6.1" fill="#7ECFB5" fill-opacity="0.7" stroke="#7ECFB5" stroke-opacity="0.7" stroke-width="1.6"/>
<circle cx="802.3" cy="1705.2" r="6.1" fill="#7ECFB5" fill-opacity="0.7" stroke="#7ECFB5" stroke-opacity="0.7" stroke-width="1.6"/>
<circle cx="824.4" cy="1733.6" r="6.1" fill="#7ECFB5" fill-opacity="0.7" stroke="#7ECFB5" stroke-opacity="0.7" stroke-width="1.6"/>
<circle cx="838.3" cy="1748.2" r="6.1" fill="#7ECFB5" fill-opacity="0.7" stroke="#7ECFB5" stroke-opacity="0.7" stroke-width="1.6"/>
<circle cx="781.9" cy="1751.5" r="6.1" fill="#7ECFB5" fill-opacity="0.7" stroke="#7ECFB5" stroke-opacity="0.7" stroke-width="1.6"/>
<circle cx="814.8" cy="1759.9" r="6.1" fill="#7ECFB5" fill-opacity="0.7" stroke="#7ECFB5" stroke-opacity="0.7" stroke-width="1.6"/>
<circle cx="830" cy="1766" r="6.1" fill="#7ECFB5" fill-opacity="0.7" stroke="#7ECFB5" stroke-opacity="0.7" stroke-width="1.6"/>
<circle cx="723.1" cy="1769.7" r="6.1" fill="#7ECFB5" fill-opacity="0.7" stroke="#7ECFB5" stroke-opacity="0.7" stroke-width="1.6"/>
<circle cx="820.1" cy="1778.8" r="6.1" fill="#7ECFB5" fill-opacity="0.7" stroke="#7ECFB5" stroke-opacity="0.7" stroke-width="1.6"/>
<circle cx="672.3" cy="1783.4" r="6.1" fill="#7ECFB5" fill-opacity="0.7" stroke="#7ECFB5" stroke-opacity="0.7" stroke-width="1.6"/>
<circle cx="806.5" cy="1791.7" r="6.1" fill="#7ECFB5" fill-opacity="0.7" stroke="#7ECFB5" stroke-opacity="0.7" stroke-width="1.6"/>
<circle cx="657.1" cy="1798.5" r="6.1" fill="#7ECFB5" fill-opacity="0.7" stroke="#7ECFB5" stroke-opacity="0.7" stroke-width="1.6"/>
<circle cx="691.3" cy="1807.3" r="6.1" fill="#7ECFB5" fill-opacity="0.7" stroke="#7ECFB5" stroke-opacity="0.7" stroke-width="1.6"/>
<circle cx="708.7" cy="1803.5" r="6.1" fill="#7ECFB5" fill-opacity="0.7" stroke="#7ECFB5" stroke-opacity="0.7" stroke-width="1.6"/>
<circle cx="842.6" cy="1804.9" r="6.1" fill="#7ECFB5" fill-opacity="0.7" stroke="#7ECFB5" stroke-opacity="0.7" stroke-width="1.6"/>
<circle cx="833" cy="1814" r="6.1" fill="#7ECFB5" fill-opacity="0.7" stroke="#7ECFB5" stroke-opacity="0.7" stroke-width="1.6"/>
<circle cx="790.6" cy="1817.5" r="6.1" fill="#7ECFB5" fill-opacity="0.7" stroke="#7ECFB5" stroke-opacity="0.7" stroke-width="1.6"/>
<circle cx="669.3" cy="1843.7" r="6.1" fill="#7ECFB5" fill-opacity="0.7" stroke="#7ECFB5" stroke-opacity="0.7" stroke-width="1.6"/>
<circle cx="684.4" cy="1847.8" r="6.1" fill="#7ECFB5" fill-opacity="0.7" stroke="#7ECFB5" stroke-opacity="0.7" stroke-width="1.6"/>
<circle cx="742" cy="1850.4" r="6.1" fill="#7ECFB5" fill-opacity="0.7" stroke="#7ECFB5" stroke-opacity="0.7" stroke-width="1.6"/>
<circle cx="822.4" cy="1853.1" r="6.1" fill="#7ECFB5" fill-opacity="0.7" stroke="#7ECFB5" stroke-opacity="0.7" stroke-width="1.6"/>
<circle cx="660.6" cy="1862.7" r="6.1" fill="#7ECFB5" fill-opacity="0.7" stroke="#7ECFB5" stroke-opacity="0.7" stroke-width="1.6"/>
<circle cx="681.4" cy="1863.7" r="6.1" fill="#7ECFB5" fill-opacity="0.7" stroke="#7ECFB5" stroke-opacity="0.7" stroke-width="1.6"/>
<circle cx="726.1" cy="1871.3" r="6.1" fill="#7ECFB5" fill-opacity="0.7" stroke="#7ECFB5" stroke-opacity="0.7" stroke-width="1.6"/>
<circle cx="769.3" cy="1872.1" r="6.1" fill="#7ECFB5" fill-opacity="0.7" stroke="#7ECFB5" stroke-opacity="0.7" stroke-width="1.6"/>
<circle cx="800.4" cy="1872.8" r="6.1" fill="#7ECFB5" fill-opacity="0.7" stroke="#7ECFB5" stroke-opacity="0.7" stroke-width="1.6"/>
<circle cx="707.9" cy="1876.6" r="6.1" fill="#7ECFB5" fill-opacity="0.7" stroke="#7ECFB5" stroke-opacity="0.7" stroke-width="1.6"/>
<circle cx="681.9" cy="1880.4" r="6.1" fill="#7ECFB5" fill-opacity="0.7" stroke="#7ECFB5" stroke-opacity="0.7" stroke-width="1.6"/>
<circle cx="853.2" cy="1877.4" r="6.1" fill="#7ECFB5" fill-opacity="0.7" stroke="#7ECFB5" stroke-opacity="0.7" stroke-width="1.6"/>
<circle cx="659.1" cy="1909.5" r="6.1" fill="#7ECFB5" fill-opacity="0.7" stroke="#7ECFB5" stroke-opacity="0.7" stroke-width="1.6"/>
<circle cx="798.9" cy="1915.6" r="6.1" fill="#7ECFB5" fill-opacity="0.7" stroke="#7ECFB5" stroke-opacity="0.7" stroke-width="1.6"/>
<circle cx="672.3" cy="1946.4" r="6.1" fill="#7ECFB5" fill-opacity="0.7" stroke="#7ECFB5" stroke-opacity="0.7" stroke-width="1.6"/>
<circle cx="748.6" cy="1944.8" r="6.1" fill="#7ECFB5" fill-opacity="0.7" stroke="#7ECFB5" stroke-opacity="0.7" stroke-width="1.6"/>
<circle cx="660.6" cy="1979.4" r="6.1" fill="#7ECFB5" fill-opacity="0.7" stroke="#7ECFB5" stroke-opacity="0.7" stroke-width="1.6"/>
<circle cx="764.3" cy="1976.4" r="6.1" fill="#7ECFB5" fill-opacity="0.7" stroke="#7ECFB5" stroke-opacity="0.7" stroke-width="1.6"/>
<circle cx="787.5" cy="1973.4" r="6.1" fill="#7ECFB5" fill-opacity="0.7" stroke="#7ECFB5" stroke-opacity="0.7" stroke-width="1.6"/>
<rect x="102.7" y="1410" width="880.9" height="595" fill="none" stroke="#333333" stroke-width="2.7"/>
<line x1="95.2" y1="1904.2" x2="102.7" y2="1904.2" stroke="#333333" stroke-width="2.6" stroke-linecap="butt"/>
<text x="90.9" y="1911.8" font-size="25" fill="#4D4D4D" text-anchor="end">2</text>
<line x1="95.2" y1="1795.25" x2="102.7" y2="1795.25" stroke="#333333" stroke-width="2.6" stroke-linecap="butt"/>
<text x="90.9" y="1802.85" font-size="25" fill="#4D4D4D" text-anchor="end">3</text>
<line x1="95.2" y1="1686.3" x2="102.7" y2="1686.3" stroke="#333333" stroke-width="2.6" stroke-linecap="butt"/>
<text x="90.9" y="1693.9" font-size="25" fill="#4D4D4D" text-anchor="end">4</text>
<line x1="95.2" y1="1577.35" x2="102.7" y2="1577.35" stroke="#333333" stroke-width="2.6" stroke-linecap="butt"/>
<text x="90.9" y="1584.95" font-size="25" fill="#4D4D4D" text-anchor="end">5</text>
<line x1="95.2" y1="1468.4" x2="102.7" y2="1468.4" stroke="#333333" stroke-width="2.6" stroke-linecap="butt"/>
<text x="90.9" y="1476" font-size="25" fill="#4D4D4D" text-anchor="end">6</text>
<line x1="343.6" y1="2005" x2="343.6" y2="2012.3" stroke="#333333" stroke-width="2.4" stroke-linecap="butt"/>
<line x1="751" y1="2005" x2="751" y2="2012.3" stroke="#333333" stroke-width="2.4" stroke-linecap="butt"/>
<text transform="translate(232.65 2033.4) scale(1 1.03)" font-size="27.86" fill="#000">Singleton-capable</text>
<text transform="translate(709.81 2033.4) scale(1 1.03)" font-size="27.90" fill="#000">Group</text>
<text transform="translate(399.97 1453) scale(1 1.03)" font-size="25.45" fill="#000">Wilcoxon, p−value: 0.205</text>
<text transform="translate(56.9 1875.6) rotate(-90) scale(1 1.03)" font-size="27.83" fill="#000">Estimated genome size (Mbp)</text>
<text transform="translate(45.87 1430) scale(1 1.03)" font-size="33.00" fill="#000" font-weight="bold">E</text>
<line x1="1098.8" y1="1990.55" x2="1963.1" y2="1990.55" stroke="#EBEBEB" stroke-width="1.1" stroke-linecap="butt"/>
<line x1="1098.8" y1="1876.25" x2="1963.1" y2="1876.25" stroke="#EBEBEB" stroke-width="1.1" stroke-linecap="butt"/>
<line x1="1098.8" y1="1761.95" x2="1963.1" y2="1761.95" stroke="#EBEBEB" stroke-width="1.1" stroke-linecap="butt"/>
<line x1="1098.8" y1="1647.65" x2="1963.1" y2="1647.65" stroke="#EBEBEB" stroke-width="1.1" stroke-linecap="butt"/>
<line x1="1098.8" y1="1533.35" x2="1963.1" y2="1533.35" stroke="#EBEBEB" stroke-width="1.1" stroke-linecap="butt"/>
<line x1="1098.8" y1="1419.05" x2="1963.1" y2="1419.05" stroke="#EBEBEB" stroke-width="1.1" stroke-linecap="butt"/>
<line x1="1098.8" y1="1933.4" x2="1963.1" y2="1933.4" stroke="#EBEBEB" stroke-width="2.0" stroke-linecap="butt"/>
<line x1="1098.8" y1="1819.1" x2="1963.1" y2="1819.1" stroke="#EBEBEB" stroke-width="2.0" stroke-linecap="butt"/>
<line x1="1098.8" y1="1704.8" x2="1963.1" y2="1704.8" stroke="#EBEBEB" stroke-width="2.0" stroke-linecap="butt"/>
<line x1="1098.8" y1="1590.5" x2="1963.1" y2="1590.5" stroke="#EBEBEB" stroke-width="2.0" stroke-linecap="butt"/>
<line x1="1098.8" y1="1476.2" x2="1963.1" y2="1476.2" stroke="#EBEBEB" stroke-width="2.0" stroke-linecap="butt"/>
<line x1="1329.5" y1="1409.7" x2="1329.5" y2="2005.3" stroke="#EBEBEB" stroke-width="2.0" stroke-linecap="butt"/>
<line x1="1729.3" y1="1409.7" x2="1729.3" y2="2005.3" stroke="#EBEBEB" stroke-width="2.0" stroke-linecap="butt"/>
<line x1="1329.5" y1="1436" x2="1329.5" y2="1544.7" stroke="#000" stroke-width="3.0" stroke-linecap="butt"/>
<line x1="1329.5" y1="1689.1" x2="1329.5" y2="1790.8" stroke="#000" stroke-width="3.0" stroke-linecap="butt"/>
<rect x="1249.4" y="1544.7" width="160.2" height="144.4" fill="#FBD1A1" fill-opacity="0.9" stroke="#000" stroke-width="3.0"/>
<line x1="1249.4" y1="1602.3" x2="1409.6" y2="1602.3" stroke="#000" stroke-width="5.8" stroke-linecap="butt"/>
<line x1="1729.3" y1="1450.7" x2="1729.3" y2="1602.7" stroke="#000" stroke-width="3.0" stroke-linecap="butt"/>
<line x1="1729.3" y1="1787.1" x2="1729.3" y2="1978.5" stroke="#000" stroke-width="3.0" stroke-linecap="butt"/>
<rect x="1649.55" y="1602.7" width="159.5" height="184.4" fill="#7ECFB5" fill-opacity="0.9" stroke="#000" stroke-width="3.0"/>
<line x1="1649.55" y1="1653.8" x2="1809.05" y2="1653.8" stroke="#000" stroke-width="5.8" stroke-linecap="butt"/>
<circle cx="1302.1" cy="1437.3" r="6.1" fill="#FBD1A1" fill-opacity="0.7" stroke="#FBD1A1" stroke-opacity="0.7" stroke-width="1.6"/>
<circle cx="1358.4" cy="1443" r="6.1" fill="#FBD1A1" fill-opacity="0.7" stroke="#FBD1A1" stroke-opacity="0.7" stroke-width="1.6"/>
<circle cx="1328.7" cy="1467.3" r="6.1" fill="#FBD1A1" fill-opacity="0.7" stroke="#FBD1A1" stroke-opacity="0.7" stroke-width="1.6"/>
<circle cx="1371.2" cy="1470.5" r="6.1" fill="#FBD1A1" fill-opacity="0.7" stroke="#FBD1A1" stroke-opacity="0.7" stroke-width="1.6"/>
<circle cx="1378.6" cy="1509.3" r="6.1" fill="#FBD1A1" fill-opacity="0.7" stroke="#FBD1A1" stroke-opacity="0.7" stroke-width="1.6"/>
<circle cx="1291" cy="1527.2" r="6.1" fill="#FBD1A1" fill-opacity="0.7" stroke="#FBD1A1" stroke-opacity="0.7" stroke-width="1.6"/>
<circle cx="1248.4" cy="1565" r="6.1" fill="#FBD1A1" fill-opacity="0.7" stroke="#FBD1A1" stroke-opacity="0.7" stroke-width="1.6"/>
<circle cx="1354.6" cy="1574.8" r="6.1" fill="#FBD1A1" fill-opacity="0.7" stroke="#FBD1A1" stroke-opacity="0.7" stroke-width="1.6"/>
<circle cx="1396.8" cy="1589.5" r="6.1" fill="#FBD1A1" fill-opacity="0.7" stroke="#FBD1A1" stroke-opacity="0.7" stroke-width="1.6"/>
<circle cx="1244.5" cy="1603.6" r="6.1" fill="#FBD1A1" fill-opacity="0.7" stroke="#FBD1A1" stroke-opacity="0.7" stroke-width="1.6"/>
<circle cx="1229.8" cy="1608.3" r="6.1" fill="#FBD1A1" fill-opacity="0.7" stroke="#FBD1A1" stroke-opacity="0.7" stroke-width="1.6"/>
<circle cx="1367.1" cy="1601.7" r="6.1" fill="#FBD1A1" fill-opacity="0.7" stroke="#FBD1A1" stroke-opacity="0.7" stroke-width="1.6"/>
<circle cx="1429.7" cy="1597.2" r="6.1" fill="#FBD1A1" fill-opacity="0.7" stroke="#FBD1A1" stroke-opacity="0.7" stroke-width="1.6"/>
<circle cx="1397.4" cy="1616.4" r="6.1" fill="#FBD1A1" fill-opacity="0.7" stroke="#FBD1A1" stroke-opacity="0.7" stroke-width="1.6"/>
<circle cx="1256" cy="1629.8" r="6.1" fill="#FBD1A1" fill-opacity="0.7" stroke="#FBD1A1" stroke-opacity="0.7" stroke-width="1.6"/>
<circle cx="1276.5" cy="1655.4" r="6.1" fill="#FBD1A1" fill-opacity="0.7" stroke="#FBD1A1" stroke-opacity="0.7" stroke-width="1.6"/>
<circle cx="1341.1" cy="1673.7" r="6.1" fill="#FBD1A1" fill-opacity="0.7" stroke="#FBD1A1" stroke-opacity="0.7" stroke-width="1.6"/>
<circle cx="1302.4" cy="1705.1" r="6.1" fill="#FBD1A1" fill-opacity="0.7" stroke="#FBD1A1" stroke-opacity="0.7" stroke-width="1.6"/>
<circle cx="1304.4" cy="1711.9" r="6.1" fill="#FBD1A1" fill-opacity="0.7" stroke="#FBD1A1" stroke-opacity="0.7" stroke-width="1.6"/>
<circle cx="1333.8" cy="1725.9" r="6.1" fill="#FBD1A1" fill-opacity="0.7" stroke="#FBD1A1" stroke-opacity="0.7" stroke-width="1.6"/>
<circle cx="1360.3" cy="1726.6" r="6.1" fill="#FBD1A1" fill-opacity="0.7" stroke="#FBD1A1" stroke-opacity="0.7" stroke-width="1.6"/>
<circle cx="1375.7" cy="1728.7" r="6.1" fill="#FBD1A1" fill-opacity="0.7" stroke="#FBD1A1" stroke-opacity="0.7" stroke-width="1.6"/>
<circle cx="1403.2" cy="1791.4" r="6.1" fill="#FBD1A1" fill-opacity="0.7" stroke="#FBD1A1" stroke-opacity="0.7" stroke-width="1.6"/>
<circle cx="1738.6" cy="1454.5" r="6.1" fill="#7ECFB5" fill-opacity="0.7" stroke="#7ECFB5" stroke-opacity="0.7" stroke-width="1.6"/>
<circle cx="1764.8" cy="1451.7" r="6.1" fill="#7ECFB5" fill-opacity="0.7" stroke="#7ECFB5" stroke-opacity="0.7" stroke-width="1.6"/>
<circle cx="1761.6" cy="1494.8" r="6.1" fill="#7ECFB5" fill-opacity="0.7" stroke="#7ECFB5" stroke-opacity="0.7" stroke-width="1.6"/>
<circle cx="1658" cy="1569.7" r="6.1" fill="#7ECFB5" fill-opacity="0.7" stroke="#7ECFB5" stroke-opacity="0.7" stroke-width="1.6"/>
<circle cx="1651.2" cy="1576.7" r="6.1" fill="#7ECFB5" fill-opacity="0.7" stroke="#7ECFB5" stroke-opacity="0.7" stroke-width="1.6"/>
<circle cx="1667.3" cy="1582.7" r="6.1" fill="#7ECFB5" fill-opacity="0.7" stroke="#7ECFB5" stroke-opacity="0.7" stroke-width="1.6"/>
<circle cx="1723.2" cy="1571.3" r="6.1" fill="#7ECFB5" fill-opacity="0.7" stroke="#7ECFB5" stroke-opacity="0.7" stroke-width="1.6"/>
<circle cx="1759.9" cy="1593.3" r="6.1" fill="#7ECFB5" fill-opacity="0.7" stroke="#7ECFB5" stroke-opacity="0.7" stroke-width="1.6"/>
<circle cx="1805.7" cy="1599.1" r="6.1" fill="#7ECFB5" fill-opacity="0.7" stroke="#7ECFB5" stroke-opacity="0.7" stroke-width="1.6"/>
<circle cx="1729" cy="1616.4" r="6.1" fill="#7ECFB5" fill-opacity="0.7" stroke="#7ECFB5" stroke-opacity="0.7" stroke-width="1.6"/>
<circle cx="1646.8" cy="1626" r="6.1" fill="#7ECFB5" fill-opacity="0.7" stroke="#7ECFB5" stroke-opacity="0.7" stroke-width="1.6"/>
<circle cx="1810" cy="1622.4" r="6.1" fill="#7ECFB5" fill-opacity="0.7" stroke="#7ECFB5" stroke-opacity="0.7" stroke-width="1.6"/>
<circle cx="1664" cy="1630.1" r="6.1" fill="#7ECFB5" fill-opacity="0.7" stroke="#7ECFB5" stroke-opacity="0.7" stroke-width="1.6"/>
<circle cx="1707" cy="1634.9" r="6.1" fill="#7ECFB5" fill-opacity="0.7" stroke="#7ECFB5" stroke-opacity="0.7" stroke-width="1.6"/>
<circle cx="1786.3" cy="1635.6" r="6.1" fill="#7ECFB5" fill-opacity="0.7" stroke="#7ECFB5" stroke-opacity="0.7" stroke-width="1.6"/>
<circle cx="1750.1" cy="1649.6" r="6.1" fill="#7ECFB5" fill-opacity="0.7" stroke="#7ECFB5" stroke-opacity="0.7" stroke-width="1.6"/>
<circle cx="1799.6" cy="1649.6" r="6.1" fill="#7ECFB5" fill-opacity="0.7" stroke="#7ECFB5" stroke-opacity="0.7" stroke-width="1.6"/>
<circle cx="1664" cy="1658.5" r="6.1" fill="#7ECFB5" fill-opacity="0.7" stroke="#7ECFB5" stroke-opacity="0.7" stroke-width="1.6"/>
<circle cx="1632" cy="1675.2" r="6.1" fill="#7ECFB5" fill-opacity="0.7" stroke="#7ECFB5" stroke-opacity="0.7" stroke-width="1.6"/>
<circle cx="1828.5" cy="1670.4" r="6.1" fill="#7ECFB5" fill-opacity="0.7" stroke="#7ECFB5" stroke-opacity="0.7" stroke-width="1.6"/>
<circle cx="1691.9" cy="1687.1" r="6.1" fill="#7ECFB5" fill-opacity="0.7" stroke="#7ECFB5" stroke-opacity="0.7" stroke-width="1.6"/>
<circle cx="1668.2" cy="1702.7" r="6.1" fill="#7ECFB5" fill-opacity="0.7" stroke="#7ECFB5" stroke-opacity="0.7" stroke-width="1.6"/>
<circle cx="1769.3" cy="1708.4" r="6.1" fill="#7ECFB5" fill-opacity="0.7" stroke="#7ECFB5" stroke-opacity="0.7" stroke-width="1.6"/>
<circle cx="1735.1" cy="1778.8" r="6.1" fill="#7ECFB5" fill-opacity="0.7" stroke="#7ECFB5" stroke-opacity="0.7" stroke-width="1.6"/>
<circle cx="1822.1" cy="1781.7" r="6.1" fill="#7ECFB5" fill-opacity="0.7" stroke="#7ECFB5" stroke-opacity="0.7" stroke-width="1.6"/>
<circle cx="1806.4" cy="1789.7" r="6.1" fill="#7ECFB5" fill-opacity="0.7" stroke="#7ECFB5" stroke-opacity="0.7" stroke-width="1.6"/>
<circle cx="1658.4" cy="1813.7" r="6.1" fill="#7ECFB5" fill-opacity="0.7" stroke="#7ECFB5" stroke-opacity="0.7" stroke-width="1.6"/>
<circle cx="1690.3" cy="1859.4" r="6.1" fill="#7ECFB5" fill-opacity="0.7" stroke="#7ECFB5" stroke-opacity="0.7" stroke-width="1.6"/>
<circle cx="1776.9" cy="1854.3" r="6.1" fill="#7ECFB5" fill-opacity="0.7" stroke="#7ECFB5" stroke-opacity="0.7" stroke-width="1.6"/>
<circle cx="1644.2" cy="1905" r="6.1" fill="#7ECFB5" fill-opacity="0.7" stroke="#7ECFB5" stroke-opacity="0.7" stroke-width="1.6"/>
<circle cx="1798.6" cy="1910.3" r="6.1" fill="#7ECFB5" fill-opacity="0.7" stroke="#7ECFB5" stroke-opacity="0.7" stroke-width="1.6"/>
<circle cx="1809.6" cy="1936.5" r="6.1" fill="#7ECFB5" fill-opacity="0.7" stroke="#7ECFB5" stroke-opacity="0.7" stroke-width="1.6"/>
<circle cx="1744.5" cy="1956.5" r="6.1" fill="#7ECFB5" fill-opacity="0.7" stroke="#7ECFB5" stroke-opacity="0.7" stroke-width="1.6"/>
<circle cx="1641.1" cy="1978.5" r="6.1" fill="#7ECFB5" fill-opacity="0.7" stroke="#7ECFB5" stroke-opacity="0.7" stroke-width="1.6"/>
<rect x="1098.8" y="1409.7" width="864.3" height="595.6" fill="none" stroke="#333333" stroke-width="2.7"/>
<line x1="1091.5" y1="1933.4" x2="1098.8" y2="1933.4" stroke="#333333" stroke-width="2.6" stroke-linecap="butt"/>
<text x="1088.4" y="1940.8" font-size="21.3" fill="#4D4D4D" text-anchor="end" letter-spacing="1.5">0.5</text>
<line x1="1091.5" y1="1819.1" x2="1098.8" y2="1819.1" stroke="#333333" stroke-width="2.6" stroke-linecap="butt"/>
<text x="1088.4" y="1826.5" font-size="21.3" fill="#4D4D4D" text-anchor="end" letter-spacing="1.5">0.6</text>
<line x1="1091.5" y1="1704.8" x2="1098.8" y2="1704.8" stroke="#333333" stroke-width="2.6" stroke-linecap="butt"/>
<text x="1088.4" y="1712.2" font-size="21.3" fill="#4D4D4D" text-anchor="end" letter-spacing="1.5">0.7</text>
<line x1="1091.5" y1="1590.5" x2="1098.8" y2="1590.5" stroke="#333333" stroke-width="2.6" stroke-linecap="butt"/>
<text x="1088.4" y="1597.9" font-size="21.3" fill="#4D4D4D" text-anchor="end" letter-spacing="1.5">0.8</text>
<line x1="1091.5" y1="1476.2" x2="1098.8" y2="1476.2" stroke="#333333" stroke-width="2.6" stroke-linecap="butt"/>
<text x="1088.4" y="1483.6" font-size="21.3" fill="#4D4D4D" text-anchor="end" letter-spacing="1.5">0.9</text>
<line x1="1329.5" y1="2005.3" x2="1329.5" y2="2012.3" stroke="#333333" stroke-width="2.4" stroke-linecap="butt"/>
<line x1="1729.3" y1="2005.3" x2="1729.3" y2="2012.3" stroke="#333333" stroke-width="2.4" stroke-linecap="butt"/>
<text transform="translate(1215.85 2033.4) scale(1 1.03)" font-size="27.86" fill="#000">Singleton-capable</text>
<text transform="translate(1689.11 2033.4) scale(1 1.03)" font-size="27.90" fill="#000">Group</text>
<text transform="translate(1406.77 1453.3) scale(1 1.03)" font-size="25.13" fill="#000">Wilcoxon, p−value: 0.0291</text>
<text transform="translate(1038.6 1880.47) rotate(-90) scale(1 1.03)" font-size="27.64" fill="#000">Average pathway completeness</text>
<text transform="translate(1018.27 1430) scale(1 1.03)" font-size="33.00" fill="#000" font-weight="bold">F</text>
<line x1="800" y1="2067" x2="842.6" y2="2067" stroke="#FBD1A1" stroke-width="6.6" stroke-linecap="butt"/>
<circle cx="821.3" cy="2067" r="11.4" fill="#FBD1A1"/>
<text transform="translate(864.54 2076.4) scale(1 1.03)" font-size="27.90" fill="#000">Single</text>
<line x1="963.4" y1="2067" x2="1006" y2="2067" stroke="#F4915A" stroke-width="6.6" stroke-linecap="butt"/>
<circle cx="984.7" cy="2067" r="11.4" fill="#F4915A"/>
<text transform="translate(1027.4 2076.4) scale(1 1.03)" font-size="27.90" fill="#000">Both</text>
<line x1="1106.5" y1="2067" x2="1149.1" y2="2067" stroke="#7ECFB5" stroke-width="6.6" stroke-linecap="butt"/>
<circle cx="1127.8" cy="2067" r="11.4" fill="#7ECFB5"/>
<text transform="translate(1170.9 2076.4) scale(1 1.03)" font-size="27.90" fill="#000">Group</text>
</svg>
</body></html>
